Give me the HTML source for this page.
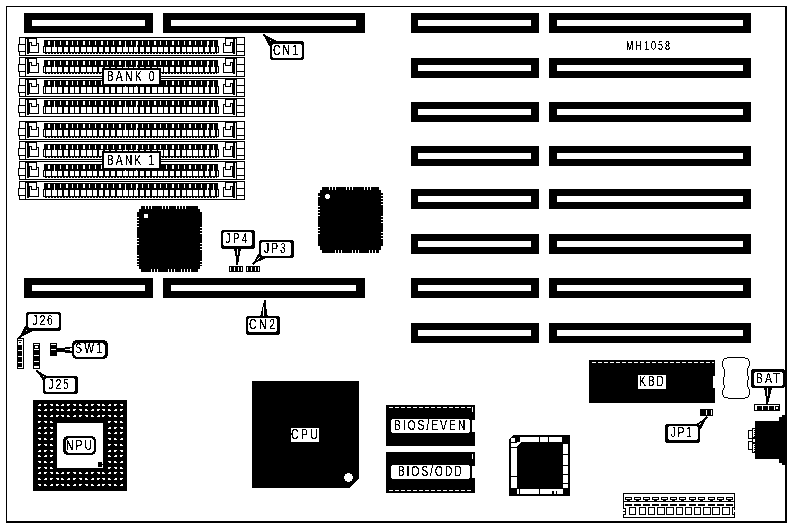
<!DOCTYPE html>
<html lang="en">
<head>
<meta charset="utf-8">
<title>MH1058 motherboard layout</title>
<style>
html,body{margin:0;padding:0;background:#fff;}
body{width:791px;height:527px;overflow:hidden;}
svg{display:block;}
svg path{shape-rendering:crispEdges;}
svg text{font-family:"Liberation Sans",sans-serif;}
</style>
</head>
<body>
<svg width="791" height="527" viewBox="0 0 791 527">
<rect width="791" height="527" fill="#fff"/>
<filter id="bw" x="0" y="0" width="1" height="1"><feComponentTransfer><feFuncA type="discrete" tableValues="0 0 1 1 1"/></feComponentTransfer></filter>
<g id="board"><path d="M6 6h781v1h-781zM6 7h1v514h-1zM785 7h2v514h-2zM6 521h781v2h-781z"/></g>
<g id="slots"><path fill="#fff" d="M32 20h113v6h-113zM171 20h185v6h-185zM418 20h113v6h-113zM557 20h186v6h-186zM418 65h113v6h-113zM557 65h186v6h-186zM418 109h113v6h-113zM557 109h186v6h-186zM418 153h113v6h-113zM557 153h186v6h-186zM418 196h113v6h-113zM557 196h186v6h-186zM418 241h113v6h-113zM557 241h186v6h-186zM32 285h113v6h-113zM171 285h185v6h-185zM418 285h113v6h-113zM557 285h186v6h-186zM418 330h113v6h-113zM557 330h186v6h-186z"/><path d="M24 13h129v7h-129zM163 13h202v7h-202zM411 13h128v7h-128zM549 13h202v7h-202zM24 20h8v6h-8zM145 20h8v6h-8zM163 20h8v6h-8zM356 20h9v6h-9zM411 20h7v6h-7zM531 20h8v6h-8zM549 20h8v6h-8zM743 20h8v6h-8zM24 26h129v7h-129zM163 26h202v7h-202zM411 26h128v7h-128zM549 26h202v7h-202zM411 58h128v7h-128zM549 58h202v7h-202zM411 65h7v6h-7zM531 65h8v6h-8zM549 65h8v6h-8zM743 65h8v6h-8zM411 71h128v7h-128zM549 71h202v7h-202zM411 102h128v7h-128zM549 102h202v7h-202zM411 109h7v6h-7zM531 109h8v6h-8zM549 109h8v6h-8zM743 109h8v6h-8zM411 115h128v7h-128zM549 115h202v7h-202zM411 146h128v7h-128zM549 146h202v7h-202zM411 153h7v6h-7zM531 153h8v6h-8zM549 153h8v6h-8zM743 153h8v6h-8zM411 159h128v7h-128zM549 159h202v7h-202zM411 189h128v7h-128zM549 189h202v7h-202zM411 196h7v6h-7zM531 196h8v6h-8zM549 196h8v6h-8zM743 196h8v6h-8zM411 202h128v7h-128zM549 202h202v7h-202zM411 234h128v7h-128zM549 234h202v7h-202zM411 241h7v6h-7zM531 241h8v6h-8zM549 241h8v6h-8zM743 241h8v6h-8zM411 247h128v7h-128zM549 247h202v7h-202zM24 278h129v7h-129zM163 278h202v7h-202zM411 278h128v7h-128zM549 278h202v7h-202zM24 285h8v6h-8zM145 285h8v6h-8zM163 285h8v6h-8zM356 285h9v6h-9zM411 285h7v6h-7zM531 285h8v6h-8zM549 285h8v6h-8zM743 285h8v6h-8zM24 291h129v7h-129zM163 291h202v7h-202zM411 291h128v7h-128zM549 291h202v7h-202zM411 323h128v7h-128zM549 323h202v7h-202zM411 330h7v6h-7zM531 330h8v6h-8zM549 330h8v6h-8zM743 330h8v6h-8zM411 336h128v7h-128zM549 336h202v7h-202z"/></g>
<g id="simm"><path fill="#fff" d="M26 39h1v14h-1zM29 39h1v3h-1zM232 39h1v3h-1zM235 39h1v14h-1zM48 41h2v4h-2zM54 41h1v6h-1zM60 41h1v4h-1zM66 41h2v4h-2zM72 41h1v4h-1zM77 41h1v4h-1zM83 41h2v4h-2zM89 41h1v4h-1zM95 41h1v4h-1zM101 41h2v4h-2zM107 41h1v4h-1zM113 41h1v4h-1zM119 41h2v4h-2zM125 41h1v6h-1zM131 41h1v4h-1zM136 41h2v4h-2zM142 41h1v4h-1zM148 41h1v4h-1zM154 41h2v4h-2zM160 41h1v4h-1zM166 41h1v4h-1zM172 41h2v4h-2zM178 41h1v4h-1zM184 41h1v4h-1zM189 41h2v4h-2zM195 41h1v4h-1zM201 41h1v4h-1zM207 41h2v4h-2zM213 41h1v6h-1zM19 45h1v6h-1zM136 45h1v2h-1zM207 45h1v2h-1zM44 47h1v5h-1zM46 47h5v5h-5zM52 47h5v5h-5zM58 47h4v5h-4zM64 47h4v5h-4zM70 47h4v5h-4zM75 47h4v5h-4zM81 47h5v5h-5zM87 47h5v5h-5zM93 47h4v5h-4zM99 47h4v5h-4zM105 47h4v5h-4zM111 47h4v5h-4zM117 47h5v5h-5zM123 47h5v5h-5zM129 47h4v5h-4zM134 47h4v5h-4zM140 47h4v5h-4zM146 47h4v5h-4zM152 47h5v5h-5zM158 47h5v5h-5zM164 47h4v5h-4zM170 47h4v5h-4zM176 47h4v5h-4zM182 47h4v5h-4zM187 47h5v5h-5zM193 47h5v5h-5zM199 47h4v5h-4zM205 47h4v5h-4zM211 47h4v5h-4zM217 47h1v5h-1zM47 53h1v1h-1zM50 53h1v1h-1zM53 53h1v1h-1zM56 53h1v1h-1zM59 53h1v1h-1zM62 53h1v1h-1zM65 53h1v1h-1zM68 53h1v1h-1zM71 53h1v1h-1zM74 53h1v1h-1zM77 53h1v1h-1zM80 53h1v1h-1zM83 53h1v1h-1zM86 53h1v1h-1zM89 53h1v1h-1zM92 53h1v1h-1zM95 53h1v1h-1zM98 53h1v1h-1zM101 53h1v1h-1zM104 53h1v1h-1zM107 53h1v1h-1zM110 53h1v1h-1zM113 53h1v1h-1zM116 53h1v1h-1zM119 53h1v1h-1zM122 53h1v1h-1zM125 53h1v1h-1zM128 53h1v1h-1zM131 53h1v1h-1zM134 53h1v1h-1zM137 53h1v1h-1zM140 53h1v1h-1zM143 53h1v1h-1zM146 53h1v1h-1zM149 53h1v1h-1zM152 53h1v1h-1zM155 53h1v1h-1zM158 53h1v1h-1zM161 53h1v1h-1zM164 53h1v1h-1zM167 53h1v1h-1zM170 53h1v1h-1zM173 53h1v1h-1zM176 53h1v1h-1zM179 53h1v1h-1zM182 53h1v1h-1zM185 53h1v1h-1zM188 53h1v1h-1zM191 53h1v1h-1zM194 53h1v1h-1zM197 53h1v1h-1zM200 53h1v1h-1zM203 53h1v1h-1zM206 53h1v1h-1zM209 53h1v1h-1zM212 53h1v1h-1zM215 53h1v1h-1zM26 59h1v14h-1zM29 59h1v3h-1zM232 59h1v3h-1zM235 59h1v14h-1zM48 61h2v4h-2zM54 61h1v6h-1zM60 61h1v4h-1zM66 61h2v4h-2zM72 61h1v4h-1zM77 61h1v4h-1zM83 61h2v4h-2zM89 61h1v4h-1zM95 61h1v4h-1zM101 61h2v4h-2zM107 61h1v4h-1zM113 61h1v4h-1zM119 61h2v4h-2zM125 61h1v6h-1zM131 61h1v4h-1zM136 61h2v4h-2zM142 61h1v4h-1zM148 61h1v4h-1zM154 61h2v4h-2zM160 61h1v4h-1zM166 61h1v4h-1zM172 61h2v4h-2zM178 61h1v4h-1zM184 61h1v4h-1zM189 61h2v4h-2zM195 61h1v4h-1zM201 61h1v4h-1zM207 61h2v4h-2zM213 61h1v6h-1zM19 65h1v6h-1zM136 65h1v2h-1zM207 65h1v2h-1zM44 67h1v5h-1zM46 67h5v5h-5zM52 67h5v5h-5zM58 67h4v5h-4zM64 67h4v5h-4zM70 67h4v5h-4zM75 67h4v5h-4zM81 67h5v5h-5zM87 67h5v5h-5zM93 67h4v5h-4zM99 67h4v5h-4zM105 67h4v5h-4zM111 67h4v5h-4zM117 67h5v5h-5zM123 67h5v5h-5zM129 67h4v5h-4zM134 67h4v5h-4zM140 67h4v5h-4zM146 67h4v5h-4zM152 67h5v5h-5zM158 67h5v5h-5zM164 67h4v5h-4zM170 67h4v5h-4zM176 67h4v5h-4zM182 67h4v5h-4zM187 67h5v5h-5zM193 67h5v5h-5zM199 67h4v5h-4zM205 67h4v5h-4zM211 67h4v5h-4zM217 67h1v5h-1zM47 73h1v1h-1zM50 73h1v1h-1zM53 73h1v1h-1zM56 73h1v1h-1zM59 73h1v1h-1zM62 73h1v1h-1zM65 73h1v1h-1zM68 73h1v1h-1zM71 73h1v1h-1zM74 73h1v1h-1zM77 73h1v1h-1zM80 73h1v1h-1zM83 73h1v1h-1zM86 73h1v1h-1zM89 73h1v1h-1zM92 73h1v1h-1zM95 73h1v1h-1zM98 73h1v1h-1zM101 73h1v1h-1zM104 73h1v1h-1zM107 73h1v1h-1zM110 73h1v1h-1zM113 73h1v1h-1zM116 73h1v1h-1zM119 73h1v1h-1zM122 73h1v1h-1zM125 73h1v1h-1zM128 73h1v1h-1zM131 73h1v1h-1zM134 73h1v1h-1zM137 73h1v1h-1zM140 73h1v1h-1zM143 73h1v1h-1zM146 73h1v1h-1zM149 73h1v1h-1zM152 73h1v1h-1zM155 73h1v1h-1zM158 73h1v1h-1zM161 73h1v1h-1zM164 73h1v1h-1zM167 73h1v1h-1zM170 73h1v1h-1zM173 73h1v1h-1zM176 73h1v1h-1zM179 73h1v1h-1zM182 73h1v1h-1zM185 73h1v1h-1zM188 73h1v1h-1zM191 73h1v1h-1zM194 73h1v1h-1zM197 73h1v1h-1zM200 73h1v1h-1zM203 73h1v1h-1zM206 73h1v1h-1zM209 73h1v1h-1zM212 73h1v1h-1zM215 73h1v1h-1zM26 80h1v14h-1zM29 80h1v3h-1zM232 80h1v3h-1zM235 80h1v14h-1zM48 81h2v4h-2zM54 81h1v6h-1zM60 81h1v4h-1zM66 81h2v4h-2zM72 81h1v4h-1zM77 81h1v4h-1zM83 81h2v4h-2zM89 81h1v4h-1zM95 81h1v4h-1zM101 81h2v4h-2zM107 81h1v4h-1zM113 81h1v4h-1zM119 81h2v4h-2zM125 81h1v6h-1zM131 81h1v4h-1zM136 81h2v4h-2zM142 81h1v4h-1zM148 81h1v4h-1zM154 81h2v4h-2zM160 81h1v4h-1zM166 81h1v4h-1zM172 81h2v4h-2zM178 81h1v4h-1zM184 81h1v4h-1zM189 81h2v4h-2zM195 81h1v4h-1zM201 81h1v4h-1zM207 81h2v4h-2zM213 81h1v6h-1zM136 85h1v2h-1zM207 85h1v2h-1zM19 86h1v6h-1zM44 87h1v6h-1zM46 87h5v6h-5zM52 87h5v6h-5zM58 87h4v6h-4zM64 87h4v6h-4zM70 87h4v6h-4zM75 87h4v6h-4zM81 87h5v6h-5zM87 87h5v6h-5zM93 87h4v6h-4zM99 87h4v6h-4zM105 87h4v6h-4zM111 87h4v6h-4zM117 87h5v6h-5zM123 87h5v6h-5zM129 87h4v6h-4zM134 87h4v6h-4zM140 87h4v6h-4zM146 87h4v6h-4zM152 87h5v6h-5zM158 87h5v6h-5zM164 87h4v6h-4zM170 87h4v6h-4zM176 87h4v6h-4zM182 87h4v6h-4zM187 87h5v6h-5zM193 87h5v6h-5zM199 87h4v6h-4zM205 87h4v6h-4zM211 87h4v6h-4zM217 87h1v6h-1zM26 100h1v14h-1zM29 100h1v3h-1zM232 100h1v3h-1zM235 100h1v14h-1zM48 101h2v4h-2zM54 101h1v6h-1zM60 101h1v4h-1zM66 101h2v4h-2zM72 101h1v4h-1zM77 101h1v4h-1zM83 101h2v4h-2zM89 101h1v4h-1zM95 101h1v4h-1zM101 101h2v4h-2zM107 101h1v4h-1zM113 101h1v4h-1zM119 101h2v4h-2zM125 101h1v6h-1zM131 101h1v4h-1zM136 101h2v4h-2zM142 101h1v4h-1zM148 101h1v4h-1zM154 101h2v4h-2zM160 101h1v4h-1zM166 101h1v4h-1zM172 101h2v4h-2zM178 101h1v4h-1zM184 101h1v4h-1zM189 101h2v4h-2zM195 101h1v4h-1zM201 101h1v4h-1zM207 101h2v4h-2zM213 101h1v6h-1zM136 105h1v2h-1zM207 105h1v2h-1zM19 106h1v6h-1zM44 107h1v6h-1zM46 107h5v6h-5zM52 107h5v6h-5zM58 107h4v6h-4zM64 107h4v6h-4zM70 107h4v6h-4zM75 107h4v6h-4zM81 107h5v6h-5zM87 107h5v6h-5zM93 107h4v6h-4zM99 107h4v6h-4zM105 107h4v6h-4zM111 107h4v6h-4zM117 107h5v6h-5zM123 107h5v6h-5zM129 107h4v6h-4zM134 107h4v6h-4zM140 107h4v6h-4zM146 107h4v6h-4zM152 107h5v6h-5zM158 107h5v6h-5zM164 107h4v6h-4zM170 107h4v6h-4zM176 107h4v6h-4zM182 107h4v6h-4zM187 107h5v6h-5zM193 107h5v6h-5zM199 107h4v6h-4zM205 107h4v6h-4zM211 107h4v6h-4zM217 107h1v6h-1zM26 123h1v14h-1zM29 123h1v3h-1zM232 123h1v3h-1zM235 123h1v14h-1zM48 124h2v4h-2zM54 124h1v6h-1zM60 124h1v4h-1zM66 124h2v4h-2zM72 124h1v4h-1zM77 124h1v4h-1zM83 124h2v4h-2zM89 124h1v4h-1zM95 124h1v4h-1zM101 124h2v4h-2zM107 124h1v4h-1zM113 124h1v4h-1zM119 124h2v4h-2zM125 124h1v6h-1zM131 124h1v4h-1zM136 124h2v4h-2zM142 124h1v4h-1zM148 124h1v4h-1zM154 124h2v4h-2zM160 124h1v4h-1zM166 124h1v4h-1zM172 124h2v4h-2zM178 124h1v4h-1zM184 124h1v4h-1zM189 124h2v4h-2zM195 124h1v4h-1zM201 124h1v4h-1zM207 124h2v4h-2zM213 124h1v6h-1zM136 128h1v2h-1zM207 128h1v2h-1zM19 129h1v6h-1zM44 130h1v6h-1zM46 130h5v6h-5zM52 130h5v6h-5zM58 130h4v6h-4zM64 130h4v6h-4zM70 130h4v6h-4zM75 130h4v6h-4zM81 130h5v6h-5zM87 130h5v6h-5zM93 130h4v6h-4zM99 130h4v6h-4zM105 130h4v6h-4zM111 130h4v6h-4zM117 130h5v6h-5zM123 130h5v6h-5zM129 130h4v6h-4zM134 130h4v6h-4zM140 130h4v6h-4zM146 130h4v6h-4zM152 130h5v6h-5zM158 130h5v6h-5zM164 130h4v6h-4zM170 130h4v6h-4zM176 130h4v6h-4zM182 130h4v6h-4zM187 130h5v6h-5zM193 130h5v6h-5zM199 130h4v6h-4zM205 130h4v6h-4zM211 130h4v6h-4zM217 130h1v6h-1zM47 137h1v1h-1zM50 137h1v1h-1zM53 137h1v1h-1zM56 137h1v1h-1zM59 137h1v1h-1zM62 137h1v1h-1zM65 137h1v1h-1zM68 137h1v1h-1zM71 137h1v1h-1zM74 137h1v1h-1zM77 137h1v1h-1zM80 137h1v1h-1zM83 137h1v1h-1zM86 137h1v1h-1zM89 137h1v1h-1zM92 137h1v1h-1zM95 137h1v1h-1zM98 137h1v1h-1zM101 137h1v1h-1zM104 137h1v1h-1zM107 137h1v1h-1zM110 137h1v1h-1zM113 137h1v1h-1zM116 137h1v1h-1zM119 137h1v1h-1zM122 137h1v1h-1zM125 137h1v1h-1zM128 137h1v1h-1zM131 137h1v1h-1zM134 137h1v1h-1zM137 137h1v1h-1zM140 137h1v1h-1zM143 137h1v1h-1zM146 137h1v1h-1zM149 137h1v1h-1zM152 137h1v1h-1zM155 137h1v1h-1zM158 137h1v1h-1zM161 137h1v1h-1zM164 137h1v1h-1zM167 137h1v1h-1zM170 137h1v1h-1zM173 137h1v1h-1zM176 137h1v1h-1zM179 137h1v1h-1zM182 137h1v1h-1zM185 137h1v1h-1zM188 137h1v1h-1zM191 137h1v1h-1zM194 137h1v1h-1zM197 137h1v1h-1zM200 137h1v1h-1zM203 137h1v1h-1zM206 137h1v1h-1zM209 137h1v1h-1zM212 137h1v1h-1zM215 137h1v1h-1zM26 143h1v14h-1zM29 143h1v3h-1zM232 143h1v3h-1zM235 143h1v14h-1zM48 145h2v4h-2zM54 145h1v5h-1zM60 145h1v4h-1zM66 145h2v4h-2zM72 145h1v4h-1zM77 145h1v4h-1zM83 145h2v4h-2zM89 145h1v4h-1zM95 145h1v4h-1zM101 145h2v4h-2zM107 145h1v4h-1zM113 145h1v4h-1zM119 145h2v4h-2zM125 145h1v5h-1zM131 145h1v4h-1zM136 145h2v4h-2zM142 145h1v4h-1zM148 145h1v4h-1zM154 145h2v4h-2zM160 145h1v4h-1zM166 145h1v4h-1zM172 145h2v4h-2zM178 145h1v4h-1zM184 145h1v4h-1zM189 145h2v4h-2zM195 145h1v4h-1zM201 145h1v4h-1zM207 145h2v4h-2zM213 145h1v5h-1zM19 149h1v6h-1zM136 149h1v1h-1zM207 149h1v1h-1zM44 150h1v6h-1zM46 150h5v6h-5zM52 150h5v6h-5zM58 150h4v6h-4zM64 150h4v6h-4zM70 150h4v6h-4zM75 150h4v6h-4zM81 150h5v6h-5zM87 150h5v6h-5zM93 150h4v6h-4zM99 150h4v6h-4zM105 150h4v6h-4zM111 150h4v6h-4zM117 150h5v6h-5zM123 150h5v6h-5zM129 150h4v6h-4zM134 150h4v6h-4zM140 150h4v6h-4zM146 150h4v6h-4zM152 150h5v6h-5zM158 150h5v6h-5zM164 150h4v6h-4zM170 150h4v6h-4zM176 150h4v6h-4zM182 150h4v6h-4zM187 150h5v6h-5zM193 150h5v6h-5zM199 150h4v6h-4zM205 150h4v6h-4zM211 150h4v6h-4zM217 150h1v6h-1zM47 157h1v1h-1zM50 157h1v1h-1zM53 157h1v1h-1zM56 157h1v1h-1zM59 157h1v1h-1zM62 157h1v1h-1zM65 157h1v1h-1zM68 157h1v1h-1zM71 157h1v1h-1zM74 157h1v1h-1zM77 157h1v1h-1zM80 157h1v1h-1zM83 157h1v1h-1zM86 157h1v1h-1zM89 157h1v1h-1zM92 157h1v1h-1zM95 157h1v1h-1zM98 157h1v1h-1zM101 157h1v1h-1zM104 157h1v1h-1zM107 157h1v1h-1zM110 157h1v1h-1zM113 157h1v1h-1zM116 157h1v1h-1zM119 157h1v1h-1zM122 157h1v1h-1zM125 157h1v1h-1zM128 157h1v1h-1zM131 157h1v1h-1zM134 157h1v1h-1zM137 157h1v1h-1zM140 157h1v1h-1zM143 157h1v1h-1zM146 157h1v1h-1zM149 157h1v1h-1zM152 157h1v1h-1zM155 157h1v1h-1zM158 157h1v1h-1zM161 157h1v1h-1zM164 157h1v1h-1zM167 157h1v1h-1zM170 157h1v1h-1zM173 157h1v1h-1zM176 157h1v1h-1zM179 157h1v1h-1zM182 157h1v1h-1zM185 157h1v1h-1zM188 157h1v1h-1zM191 157h1v1h-1zM194 157h1v1h-1zM197 157h1v1h-1zM200 157h1v1h-1zM203 157h1v1h-1zM206 157h1v1h-1zM209 157h1v1h-1zM212 157h1v1h-1zM215 157h1v1h-1zM26 163h1v14h-1zM29 163h1v3h-1zM232 163h1v3h-1zM235 163h1v14h-1zM48 165h2v4h-2zM54 165h1v6h-1zM60 165h1v4h-1zM66 165h2v4h-2zM72 165h1v4h-1zM77 165h1v4h-1zM83 165h2v4h-2zM89 165h1v4h-1zM95 165h1v4h-1zM101 165h2v4h-2zM107 165h1v4h-1zM113 165h1v4h-1zM119 165h2v4h-2zM125 165h1v6h-1zM131 165h1v4h-1zM136 165h2v4h-2zM142 165h1v4h-1zM148 165h1v4h-1zM154 165h2v4h-2zM160 165h1v4h-1zM166 165h1v4h-1zM172 165h2v4h-2zM178 165h1v4h-1zM184 165h1v4h-1zM189 165h2v4h-2zM195 165h1v4h-1zM201 165h1v4h-1zM207 165h2v4h-2zM213 165h1v6h-1zM19 169h1v6h-1zM136 169h1v2h-1zM207 169h1v2h-1zM44 171h1v5h-1zM46 171h5v5h-5zM52 171h5v5h-5zM58 171h4v5h-4zM64 171h4v5h-4zM70 171h4v5h-4zM75 171h4v5h-4zM81 171h5v5h-5zM87 171h5v5h-5zM93 171h4v5h-4zM99 171h4v5h-4zM105 171h4v5h-4zM111 171h4v5h-4zM117 171h5v5h-5zM123 171h5v5h-5zM129 171h4v5h-4zM134 171h4v5h-4zM140 171h4v5h-4zM146 171h4v5h-4zM152 171h5v5h-5zM158 171h5v5h-5zM164 171h4v5h-4zM170 171h4v5h-4zM176 171h4v5h-4zM182 171h4v5h-4zM187 171h5v5h-5zM193 171h5v5h-5zM199 171h4v5h-4zM205 171h4v5h-4zM211 171h4v5h-4zM217 171h1v5h-1zM47 177h1v1h-1zM50 177h1v1h-1zM53 177h1v1h-1zM56 177h1v1h-1zM59 177h1v1h-1zM62 177h1v1h-1zM65 177h1v1h-1zM68 177h1v1h-1zM71 177h1v1h-1zM74 177h1v1h-1zM77 177h1v1h-1zM80 177h1v1h-1zM83 177h1v1h-1zM86 177h1v1h-1zM89 177h1v1h-1zM92 177h1v1h-1zM95 177h1v1h-1zM98 177h1v1h-1zM101 177h1v1h-1zM104 177h1v1h-1zM107 177h1v1h-1zM110 177h1v1h-1zM113 177h1v1h-1zM116 177h1v1h-1zM119 177h1v1h-1zM122 177h1v1h-1zM125 177h1v1h-1zM128 177h1v1h-1zM131 177h1v1h-1zM134 177h1v1h-1zM137 177h1v1h-1zM140 177h1v1h-1zM143 177h1v1h-1zM146 177h1v1h-1zM149 177h1v1h-1zM152 177h1v1h-1zM155 177h1v1h-1zM158 177h1v1h-1zM161 177h1v1h-1zM164 177h1v1h-1zM167 177h1v1h-1zM170 177h1v1h-1zM173 177h1v1h-1zM176 177h1v1h-1zM179 177h1v1h-1zM182 177h1v1h-1zM185 177h1v1h-1zM188 177h1v1h-1zM191 177h1v1h-1zM194 177h1v1h-1zM197 177h1v1h-1zM200 177h1v1h-1zM203 177h1v1h-1zM206 177h1v1h-1zM209 177h1v1h-1zM212 177h1v1h-1zM215 177h1v1h-1zM26 183h1v14h-1zM29 183h1v3h-1zM232 183h1v3h-1zM235 183h1v14h-1zM48 184h2v4h-2zM54 184h1v6h-1zM60 184h1v4h-1zM66 184h2v4h-2zM72 184h1v4h-1zM77 184h1v4h-1zM83 184h2v4h-2zM89 184h1v4h-1zM95 184h1v4h-1zM101 184h2v4h-2zM107 184h1v4h-1zM113 184h1v4h-1zM119 184h2v4h-2zM125 184h1v6h-1zM131 184h1v4h-1zM136 184h2v4h-2zM142 184h1v4h-1zM148 184h1v4h-1zM154 184h2v4h-2zM160 184h1v4h-1zM166 184h1v4h-1zM172 184h2v4h-2zM178 184h1v4h-1zM184 184h1v4h-1zM189 184h2v4h-2zM195 184h1v4h-1zM201 184h1v4h-1zM207 184h2v4h-2zM213 184h1v6h-1zM136 188h1v2h-1zM207 188h1v2h-1zM19 189h1v6h-1zM44 190h1v6h-1zM46 190h5v6h-5zM52 190h5v6h-5zM58 190h4v6h-4zM64 190h4v6h-4zM70 190h4v6h-4zM75 190h4v6h-4zM81 190h5v6h-5zM87 190h5v6h-5zM93 190h4v6h-4zM99 190h4v6h-4zM105 190h4v6h-4zM111 190h4v6h-4zM117 190h5v6h-5zM123 190h5v6h-5zM129 190h4v6h-4zM134 190h4v6h-4zM140 190h4v6h-4zM146 190h4v6h-4zM152 190h5v6h-5zM158 190h5v6h-5zM164 190h4v6h-4zM170 190h4v6h-4zM176 190h4v6h-4zM182 190h4v6h-4zM187 190h5v6h-5zM193 190h5v6h-5zM199 190h4v6h-4zM205 190h4v6h-4zM211 190h4v6h-4zM217 190h1v6h-1zM47 197h1v1h-1zM50 197h1v1h-1zM53 197h1v1h-1zM56 197h1v1h-1zM59 197h1v1h-1zM62 197h1v1h-1zM65 197h1v1h-1zM68 197h1v1h-1zM71 197h1v1h-1zM74 197h1v1h-1zM77 197h1v1h-1zM80 197h1v1h-1zM83 197h1v1h-1zM86 197h1v1h-1zM89 197h1v1h-1zM92 197h1v1h-1zM95 197h1v1h-1zM98 197h1v1h-1zM101 197h1v1h-1zM104 197h1v1h-1zM107 197h1v1h-1zM110 197h1v1h-1zM113 197h1v1h-1zM116 197h1v1h-1zM119 197h1v1h-1zM122 197h1v1h-1zM125 197h1v1h-1zM128 197h1v1h-1zM131 197h1v1h-1zM134 197h1v1h-1zM137 197h1v1h-1zM140 197h1v1h-1zM143 197h1v1h-1zM146 197h1v1h-1zM149 197h1v1h-1zM152 197h1v1h-1zM155 197h1v1h-1zM158 197h1v1h-1zM161 197h1v1h-1zM164 197h1v1h-1zM167 197h1v1h-1zM170 197h1v1h-1zM173 197h1v1h-1zM176 197h1v1h-1zM179 197h1v1h-1zM182 197h1v1h-1zM185 197h1v1h-1zM188 197h1v1h-1zM191 197h1v1h-1zM194 197h1v1h-1zM197 197h1v1h-1zM200 197h1v1h-1zM203 197h1v1h-1zM206 197h1v1h-1zM209 197h1v1h-1zM212 197h1v1h-1zM215 197h1v1h-1z"/><path d="M19 37h226v1h-226zM19 38h1v6h-1zM25 38h12v1h-12zM225 38h12v1h-12zM244 38h1v6h-1zM25 39h1v5h-1zM27 39h2v3h-2zM36 39h1v4h-1zM225 39h1v4h-1zM233 39h2v3h-2zM236 39h1v5h-1zM44 40h174v1h-174zM44 41h4v4h-4zM50 41h4v4h-4zM55 41h5v4h-5zM61 41h5v4h-5zM68 41h4v4h-4zM73 41h4v4h-4zM78 41h5v4h-5zM85 41h4v4h-4zM90 41h5v4h-5zM96 41h5v4h-5zM103 41h4v4h-4zM108 41h5v4h-5zM114 41h5v4h-5zM121 41h4v4h-4zM126 41h5v4h-5zM132 41h4v4h-4zM138 41h4v4h-4zM143 41h5v4h-5zM149 41h5v4h-5zM156 41h4v4h-4zM161 41h5v4h-5zM167 41h5v4h-5zM174 41h4v4h-4zM179 41h5v4h-5zM185 41h4v4h-4zM191 41h4v4h-4zM196 41h5v4h-5zM202 41h5v4h-5zM209 41h4v4h-4zM214 41h4v5h-4zM27 42h5v1h-5zM230 42h5v1h-5zM27 43h3v9h-3zM31 43h1v2h-1zM36 43h3v1h-3zM223 43h3v1h-3zM230 43h1v2h-1zM232 43h3v9h-3zM18 44h8v1h-8zM36 44h1v1h-1zM38 44h1v8h-1zM223 44h1v8h-1zM225 44h1v1h-1zM236 44h9v1h-9zM18 45h1v6h-1zM25 45h1v6h-1zM31 45h6v1h-6zM44 45h10v1h-10zM55 45h70v2h-70zM126 45h10v2h-10zM137 45h70v2h-70zM208 45h5v2h-5zM225 45h6v1h-6zM236 45h1v6h-1zM244 45h1v6h-1zM43 46h11v1h-11zM214 46h5v1h-5zM43 47h1v5h-1zM45 47h1v5h-1zM51 47h1v5h-1zM57 47h1v5h-1zM62 47h2v5h-2zM68 47h2v5h-2zM74 47h1v5h-1zM79 47h2v5h-2zM86 47h1v5h-1zM92 47h1v5h-1zM97 47h2v5h-2zM103 47h2v5h-2zM109 47h2v5h-2zM115 47h2v5h-2zM122 47h1v5h-1zM128 47h1v5h-1zM133 47h1v5h-1zM138 47h2v5h-2zM144 47h2v5h-2zM150 47h2v5h-2zM157 47h1v5h-1zM163 47h1v5h-1zM168 47h2v5h-2zM174 47h2v5h-2zM180 47h2v5h-2zM186 47h1v5h-1zM192 47h1v5h-1zM198 47h1v5h-1zM203 47h2v5h-2zM209 47h2v5h-2zM215 47h2v5h-2zM218 47h1v5h-1zM18 51h8v1h-8zM236 51h9v1h-9zM19 52h1v3h-1zM25 52h1v3h-1zM27 52h12v1h-12zM43 52h176v1h-176zM223 52h12v1h-12zM236 52h1v3h-1zM244 52h1v3h-1zM27 53h2v1h-2zM45 53h2v1h-2zM48 53h2v1h-2zM51 53h2v1h-2zM54 53h2v1h-2zM57 53h2v1h-2zM60 53h2v1h-2zM63 53h2v1h-2zM66 53h2v1h-2zM69 53h2v1h-2zM72 53h2v1h-2zM75 53h2v1h-2zM78 53h2v1h-2zM81 53h2v1h-2zM84 53h2v1h-2zM87 53h2v1h-2zM90 53h2v1h-2zM93 53h2v1h-2zM96 53h2v1h-2zM99 53h2v1h-2zM102 53h2v1h-2zM105 53h2v1h-2zM108 53h2v1h-2zM111 53h2v1h-2zM114 53h2v1h-2zM117 53h2v1h-2zM120 53h2v1h-2zM123 53h2v1h-2zM126 53h2v1h-2zM129 53h2v1h-2zM132 53h2v1h-2zM135 53h2v1h-2zM138 53h2v1h-2zM141 53h2v1h-2zM144 53h2v1h-2zM147 53h2v1h-2zM150 53h2v1h-2zM153 53h2v1h-2zM156 53h2v1h-2zM159 53h2v1h-2zM162 53h2v1h-2zM165 53h2v1h-2zM168 53h2v1h-2zM171 53h2v1h-2zM174 53h2v1h-2zM177 53h2v1h-2zM180 53h2v1h-2zM183 53h2v1h-2zM186 53h2v1h-2zM189 53h2v1h-2zM192 53h2v1h-2zM195 53h2v1h-2zM198 53h2v1h-2zM201 53h2v1h-2zM204 53h2v1h-2zM207 53h2v1h-2zM210 53h2v1h-2zM213 53h2v1h-2zM216 53h1v1h-1zM233 53h2v1h-2zM19 55h226v1h-226zM19 57h226v1h-226zM19 58h1v6h-1zM25 58h12v1h-12zM225 58h12v1h-12zM244 58h1v6h-1zM25 59h1v5h-1zM27 59h2v3h-2zM36 59h1v4h-1zM225 59h1v4h-1zM233 59h2v3h-2zM236 59h1v5h-1zM44 60h174v1h-174zM44 61h4v4h-4zM50 61h4v4h-4zM55 61h5v4h-5zM61 61h5v4h-5zM68 61h4v4h-4zM73 61h4v4h-4zM78 61h5v4h-5zM85 61h4v4h-4zM90 61h5v4h-5zM96 61h5v4h-5zM103 61h4v4h-4zM108 61h5v4h-5zM114 61h5v4h-5zM121 61h4v4h-4zM126 61h5v4h-5zM132 61h4v4h-4zM138 61h4v4h-4zM143 61h5v4h-5zM149 61h5v4h-5zM156 61h4v4h-4zM161 61h5v4h-5zM167 61h5v4h-5zM174 61h4v4h-4zM179 61h5v4h-5zM185 61h4v4h-4zM191 61h4v4h-4zM196 61h5v4h-5zM202 61h5v4h-5zM209 61h4v4h-4zM214 61h4v5h-4zM27 62h5v1h-5zM230 62h5v1h-5zM27 63h3v9h-3zM31 63h1v2h-1zM36 63h3v1h-3zM223 63h3v1h-3zM230 63h1v2h-1zM232 63h3v9h-3zM18 64h8v1h-8zM36 64h1v1h-1zM38 64h1v8h-1zM223 64h1v8h-1zM225 64h1v1h-1zM236 64h9v1h-9zM18 65h1v6h-1zM25 65h1v6h-1zM31 65h6v1h-6zM44 65h10v1h-10zM55 65h70v2h-70zM126 65h10v2h-10zM137 65h70v2h-70zM208 65h5v2h-5zM225 65h6v1h-6zM236 65h1v6h-1zM244 65h1v6h-1zM43 66h11v1h-11zM214 66h5v1h-5zM43 67h1v5h-1zM45 67h1v5h-1zM51 67h1v5h-1zM57 67h1v5h-1zM62 67h2v5h-2zM68 67h2v5h-2zM74 67h1v5h-1zM79 67h2v5h-2zM86 67h1v5h-1zM92 67h1v5h-1zM97 67h2v5h-2zM103 67h2v5h-2zM109 67h2v5h-2zM115 67h2v5h-2zM122 67h1v5h-1zM128 67h1v5h-1zM133 67h1v5h-1zM138 67h2v5h-2zM144 67h2v5h-2zM150 67h2v5h-2zM157 67h1v5h-1zM163 67h1v5h-1zM168 67h2v5h-2zM174 67h2v5h-2zM180 67h2v5h-2zM186 67h1v5h-1zM192 67h1v5h-1zM198 67h1v5h-1zM203 67h2v5h-2zM209 67h2v5h-2zM215 67h2v5h-2zM218 67h1v5h-1zM18 71h8v1h-8zM236 71h9v1h-9zM19 72h1v4h-1zM25 72h1v4h-1zM27 72h12v1h-12zM43 72h176v1h-176zM223 72h12v1h-12zM236 72h1v4h-1zM244 72h1v4h-1zM27 73h2v1h-2zM45 73h2v1h-2zM48 73h2v1h-2zM51 73h2v1h-2zM54 73h2v1h-2zM57 73h2v1h-2zM60 73h2v1h-2zM63 73h2v1h-2zM66 73h2v1h-2zM69 73h2v1h-2zM72 73h2v1h-2zM75 73h2v1h-2zM78 73h2v1h-2zM81 73h2v1h-2zM84 73h2v1h-2zM87 73h2v1h-2zM90 73h2v1h-2zM93 73h2v1h-2zM96 73h2v1h-2zM99 73h2v1h-2zM102 73h2v1h-2zM105 73h2v1h-2zM108 73h2v1h-2zM111 73h2v1h-2zM114 73h2v1h-2zM117 73h2v1h-2zM120 73h2v1h-2zM123 73h2v1h-2zM126 73h2v1h-2zM129 73h2v1h-2zM132 73h2v1h-2zM135 73h2v1h-2zM138 73h2v1h-2zM141 73h2v1h-2zM144 73h2v1h-2zM147 73h2v1h-2zM150 73h2v1h-2zM153 73h2v1h-2zM156 73h2v1h-2zM159 73h2v1h-2zM162 73h2v1h-2zM165 73h2v1h-2zM168 73h2v1h-2zM171 73h2v1h-2zM174 73h2v1h-2zM177 73h2v1h-2zM180 73h2v1h-2zM183 73h2v1h-2zM186 73h2v1h-2zM189 73h2v1h-2zM192 73h2v1h-2zM195 73h2v1h-2zM198 73h2v1h-2zM201 73h2v1h-2zM204 73h2v1h-2zM207 73h2v1h-2zM210 73h2v1h-2zM213 73h2v1h-2zM216 73h1v1h-1zM233 73h2v1h-2zM19 76h226v1h-226zM19 78h226v1h-226zM19 79h1v6h-1zM25 79h12v1h-12zM225 79h12v1h-12zM244 79h1v6h-1zM25 80h1v5h-1zM27 80h2v3h-2zM36 80h1v4h-1zM44 80h174v1h-174zM225 80h1v4h-1zM233 80h2v3h-2zM236 80h1v5h-1zM44 81h4v4h-4zM50 81h4v4h-4zM55 81h5v4h-5zM61 81h5v4h-5zM68 81h4v4h-4zM73 81h4v4h-4zM78 81h5v4h-5zM85 81h4v4h-4zM90 81h5v4h-5zM96 81h5v4h-5zM103 81h4v4h-4zM108 81h5v4h-5zM114 81h5v4h-5zM121 81h4v4h-4zM126 81h5v4h-5zM132 81h4v4h-4zM138 81h4v4h-4zM143 81h5v4h-5zM149 81h5v4h-5zM156 81h4v4h-4zM161 81h5v4h-5zM167 81h5v4h-5zM174 81h4v4h-4zM179 81h5v4h-5zM185 81h4v4h-4zM191 81h4v4h-4zM196 81h5v4h-5zM202 81h5v4h-5zM209 81h4v4h-4zM214 81h4v5h-4zM27 83h5v1h-5zM230 83h5v1h-5zM27 84h3v9h-3zM31 84h1v2h-1zM36 84h3v1h-3zM223 84h3v1h-3zM230 84h1v2h-1zM232 84h3v9h-3zM18 85h8v1h-8zM36 85h1v1h-1zM38 85h1v8h-1zM44 85h10v1h-10zM55 85h70v2h-70zM126 85h10v2h-10zM137 85h70v2h-70zM208 85h5v2h-5zM223 85h1v8h-1zM225 85h1v1h-1zM236 85h9v1h-9zM18 86h1v6h-1zM25 86h1v6h-1zM31 86h6v1h-6zM43 86h11v1h-11zM214 86h5v1h-5zM225 86h6v1h-6zM236 86h1v6h-1zM244 86h1v6h-1zM43 87h1v6h-1zM45 87h1v6h-1zM51 87h1v6h-1zM57 87h1v6h-1zM62 87h2v6h-2zM68 87h2v6h-2zM74 87h1v6h-1zM79 87h2v6h-2zM86 87h1v6h-1zM92 87h1v6h-1zM97 87h2v6h-2zM103 87h2v6h-2zM109 87h2v6h-2zM115 87h2v6h-2zM122 87h1v6h-1zM128 87h1v6h-1zM133 87h1v6h-1zM138 87h2v6h-2zM144 87h2v6h-2zM150 87h2v6h-2zM157 87h1v6h-1zM163 87h1v6h-1zM168 87h2v6h-2zM174 87h2v6h-2zM180 87h2v6h-2zM186 87h1v6h-1zM192 87h1v6h-1zM198 87h1v6h-1zM203 87h2v6h-2zM209 87h2v6h-2zM215 87h2v6h-2zM218 87h1v6h-1zM18 92h8v1h-8zM236 92h9v1h-9zM19 93h1v3h-1zM25 93h1v3h-1zM27 93h12v1h-12zM43 93h176v1h-176zM223 93h12v1h-12zM236 93h1v3h-1zM244 93h1v3h-1zM27 94h2v1h-2zM233 94h2v1h-2zM19 96h226v1h-226zM19 98h226v1h-226zM19 99h1v6h-1zM25 99h12v1h-12zM225 99h12v1h-12zM244 99h1v6h-1zM25 100h1v5h-1zM27 100h2v3h-2zM36 100h1v4h-1zM44 100h174v1h-174zM225 100h1v4h-1zM233 100h2v3h-2zM236 100h1v5h-1zM44 101h4v4h-4zM50 101h4v4h-4zM55 101h5v4h-5zM61 101h5v4h-5zM68 101h4v4h-4zM73 101h4v4h-4zM78 101h5v4h-5zM85 101h4v4h-4zM90 101h5v4h-5zM96 101h5v4h-5zM103 101h4v4h-4zM108 101h5v4h-5zM114 101h5v4h-5zM121 101h4v4h-4zM126 101h5v4h-5zM132 101h4v4h-4zM138 101h4v4h-4zM143 101h5v4h-5zM149 101h5v4h-5zM156 101h4v4h-4zM161 101h5v4h-5zM167 101h5v4h-5zM174 101h4v4h-4zM179 101h5v4h-5zM185 101h4v4h-4zM191 101h4v4h-4zM196 101h5v4h-5zM202 101h5v4h-5zM209 101h4v4h-4zM214 101h4v5h-4zM27 103h5v1h-5zM230 103h5v1h-5zM27 104h3v9h-3zM31 104h1v2h-1zM36 104h3v1h-3zM223 104h3v1h-3zM230 104h1v2h-1zM232 104h3v9h-3zM18 105h8v1h-8zM36 105h1v1h-1zM38 105h1v8h-1zM44 105h10v1h-10zM55 105h70v2h-70zM126 105h10v2h-10zM137 105h70v2h-70zM208 105h5v2h-5zM223 105h1v8h-1zM225 105h1v1h-1zM236 105h9v1h-9zM18 106h1v6h-1zM25 106h1v6h-1zM31 106h6v1h-6zM43 106h11v1h-11zM214 106h5v1h-5zM225 106h6v1h-6zM236 106h1v6h-1zM244 106h1v6h-1zM43 107h1v6h-1zM45 107h1v6h-1zM51 107h1v6h-1zM57 107h1v6h-1zM62 107h2v6h-2zM68 107h2v6h-2zM74 107h1v6h-1zM79 107h2v6h-2zM86 107h1v6h-1zM92 107h1v6h-1zM97 107h2v6h-2zM103 107h2v6h-2zM109 107h2v6h-2zM115 107h2v6h-2zM122 107h1v6h-1zM128 107h1v6h-1zM133 107h1v6h-1zM138 107h2v6h-2zM144 107h2v6h-2zM150 107h2v6h-2zM157 107h1v6h-1zM163 107h1v6h-1zM168 107h2v6h-2zM174 107h2v6h-2zM180 107h2v6h-2zM186 107h1v6h-1zM192 107h1v6h-1zM198 107h1v6h-1zM203 107h2v6h-2zM209 107h2v6h-2zM215 107h2v6h-2zM218 107h1v6h-1zM18 112h8v1h-8zM236 112h9v1h-9zM19 113h1v3h-1zM25 113h1v3h-1zM27 113h12v1h-12zM43 113h176v1h-176zM223 113h12v1h-12zM236 113h1v3h-1zM244 113h1v3h-1zM27 114h2v1h-2zM233 114h2v1h-2zM19 116h226v1h-226zM19 121h226v1h-226zM19 122h1v6h-1zM25 122h12v1h-12zM225 122h12v1h-12zM244 122h1v6h-1zM25 123h1v5h-1zM27 123h2v3h-2zM36 123h1v4h-1zM44 123h174v1h-174zM225 123h1v4h-1zM233 123h2v3h-2zM236 123h1v5h-1zM44 124h4v4h-4zM50 124h4v4h-4zM55 124h5v4h-5zM61 124h5v4h-5zM68 124h4v4h-4zM73 124h4v4h-4zM78 124h5v4h-5zM85 124h4v4h-4zM90 124h5v4h-5zM96 124h5v4h-5zM103 124h4v4h-4zM108 124h5v4h-5zM114 124h5v4h-5zM121 124h4v4h-4zM126 124h5v4h-5zM132 124h4v4h-4zM138 124h4v4h-4zM143 124h5v4h-5zM149 124h5v4h-5zM156 124h4v4h-4zM161 124h5v4h-5zM167 124h5v4h-5zM174 124h4v4h-4zM179 124h5v4h-5zM185 124h4v4h-4zM191 124h4v4h-4zM196 124h5v4h-5zM202 124h5v4h-5zM209 124h4v4h-4zM214 124h4v5h-4zM27 126h5v1h-5zM230 126h5v1h-5zM27 127h3v9h-3zM31 127h1v2h-1zM36 127h3v1h-3zM223 127h3v1h-3zM230 127h1v2h-1zM232 127h3v9h-3zM18 128h8v1h-8zM36 128h1v1h-1zM38 128h1v8h-1zM44 128h10v1h-10zM55 128h70v2h-70zM126 128h10v2h-10zM137 128h70v2h-70zM208 128h5v2h-5zM223 128h1v8h-1zM225 128h1v1h-1zM236 128h9v1h-9zM18 129h1v6h-1zM25 129h1v6h-1zM31 129h6v1h-6zM43 129h11v1h-11zM214 129h5v1h-5zM225 129h6v1h-6zM236 129h1v6h-1zM244 129h1v6h-1zM43 130h1v6h-1zM45 130h1v6h-1zM51 130h1v6h-1zM57 130h1v6h-1zM62 130h2v6h-2zM68 130h2v6h-2zM74 130h1v6h-1zM79 130h2v6h-2zM86 130h1v6h-1zM92 130h1v6h-1zM97 130h2v6h-2zM103 130h2v6h-2zM109 130h2v6h-2zM115 130h2v6h-2zM122 130h1v6h-1zM128 130h1v6h-1zM133 130h1v6h-1zM138 130h2v6h-2zM144 130h2v6h-2zM150 130h2v6h-2zM157 130h1v6h-1zM163 130h1v6h-1zM168 130h2v6h-2zM174 130h2v6h-2zM180 130h2v6h-2zM186 130h1v6h-1zM192 130h1v6h-1zM198 130h1v6h-1zM203 130h2v6h-2zM209 130h2v6h-2zM215 130h2v6h-2zM218 130h1v6h-1zM18 135h8v1h-8zM236 135h9v1h-9zM19 136h1v3h-1zM25 136h1v3h-1zM27 136h12v1h-12zM43 136h176v1h-176zM223 136h12v1h-12zM236 136h1v3h-1zM244 136h1v3h-1zM27 137h2v1h-2zM45 137h2v1h-2zM48 137h2v1h-2zM51 137h2v1h-2zM54 137h2v1h-2zM57 137h2v1h-2zM60 137h2v1h-2zM63 137h2v1h-2zM66 137h2v1h-2zM69 137h2v1h-2zM72 137h2v1h-2zM75 137h2v1h-2zM78 137h2v1h-2zM81 137h2v1h-2zM84 137h2v1h-2zM87 137h2v1h-2zM90 137h2v1h-2zM93 137h2v1h-2zM96 137h2v1h-2zM99 137h2v1h-2zM102 137h2v1h-2zM105 137h2v1h-2zM108 137h2v1h-2zM111 137h2v1h-2zM114 137h2v1h-2zM117 137h2v1h-2zM120 137h2v1h-2zM123 137h2v1h-2zM126 137h2v1h-2zM129 137h2v1h-2zM132 137h2v1h-2zM135 137h2v1h-2zM138 137h2v1h-2zM141 137h2v1h-2zM144 137h2v1h-2zM147 137h2v1h-2zM150 137h2v1h-2zM153 137h2v1h-2zM156 137h2v1h-2zM159 137h2v1h-2zM162 137h2v1h-2zM165 137h2v1h-2zM168 137h2v1h-2zM171 137h2v1h-2zM174 137h2v1h-2zM177 137h2v1h-2zM180 137h2v1h-2zM183 137h2v1h-2zM186 137h2v1h-2zM189 137h2v1h-2zM192 137h2v1h-2zM195 137h2v1h-2zM198 137h2v1h-2zM201 137h2v1h-2zM204 137h2v1h-2zM207 137h2v1h-2zM210 137h2v1h-2zM213 137h2v1h-2zM216 137h1v1h-1zM233 137h2v1h-2zM19 139h226v1h-226zM19 141h226v1h-226zM19 142h1v6h-1zM25 142h12v1h-12zM225 142h12v1h-12zM244 142h1v6h-1zM25 143h1v5h-1zM27 143h2v3h-2zM36 143h1v4h-1zM225 143h1v4h-1zM233 143h2v3h-2zM236 143h1v5h-1zM44 144h174v1h-174zM44 145h4v4h-4zM50 145h4v4h-4zM55 145h5v4h-5zM61 145h5v4h-5zM68 145h4v4h-4zM73 145h4v4h-4zM78 145h5v4h-5zM85 145h4v4h-4zM90 145h5v4h-5zM96 145h5v4h-5zM103 145h4v4h-4zM108 145h5v4h-5zM114 145h5v4h-5zM121 145h4v4h-4zM126 145h5v4h-5zM132 145h4v4h-4zM138 145h4v4h-4zM143 145h5v4h-5zM149 145h5v4h-5zM156 145h4v4h-4zM161 145h5v4h-5zM167 145h5v4h-5zM174 145h4v4h-4zM179 145h5v4h-5zM185 145h4v4h-4zM191 145h4v4h-4zM196 145h5v4h-5zM202 145h5v4h-5zM209 145h4v4h-4zM214 145h4v4h-4zM27 146h5v1h-5zM230 146h5v1h-5zM27 147h3v9h-3zM31 147h1v2h-1zM36 147h3v1h-3zM223 147h3v1h-3zM230 147h1v2h-1zM232 147h3v9h-3zM18 148h8v1h-8zM36 148h1v1h-1zM38 148h1v8h-1zM223 148h1v8h-1zM225 148h1v1h-1zM236 148h9v1h-9zM18 149h1v6h-1zM25 149h1v6h-1zM31 149h6v1h-6zM43 149h11v1h-11zM55 149h70v1h-70zM126 149h10v1h-10zM137 149h70v1h-70zM208 149h5v1h-5zM214 149h5v1h-5zM225 149h6v1h-6zM236 149h1v6h-1zM244 149h1v6h-1zM43 150h1v6h-1zM45 150h1v6h-1zM51 150h1v6h-1zM57 150h1v6h-1zM62 150h2v6h-2zM68 150h2v6h-2zM74 150h1v6h-1zM79 150h2v6h-2zM86 150h1v6h-1zM92 150h1v6h-1zM97 150h2v6h-2zM103 150h2v6h-2zM109 150h2v6h-2zM115 150h2v6h-2zM122 150h1v6h-1zM128 150h1v6h-1zM133 150h1v6h-1zM138 150h2v6h-2zM144 150h2v6h-2zM150 150h2v6h-2zM157 150h1v6h-1zM163 150h1v6h-1zM168 150h2v6h-2zM174 150h2v6h-2zM180 150h2v6h-2zM186 150h1v6h-1zM192 150h1v6h-1zM198 150h1v6h-1zM203 150h2v6h-2zM209 150h2v6h-2zM215 150h2v6h-2zM218 150h1v6h-1zM18 155h8v1h-8zM236 155h9v1h-9zM19 156h1v3h-1zM25 156h1v3h-1zM27 156h12v1h-12zM43 156h176v1h-176zM223 156h12v1h-12zM236 156h1v3h-1zM244 156h1v3h-1zM27 157h2v1h-2zM45 157h2v1h-2zM48 157h2v1h-2zM51 157h2v1h-2zM54 157h2v1h-2zM57 157h2v1h-2zM60 157h2v1h-2zM63 157h2v1h-2zM66 157h2v1h-2zM69 157h2v1h-2zM72 157h2v1h-2zM75 157h2v1h-2zM78 157h2v1h-2zM81 157h2v1h-2zM84 157h2v1h-2zM87 157h2v1h-2zM90 157h2v1h-2zM93 157h2v1h-2zM96 157h2v1h-2zM99 157h2v1h-2zM102 157h2v1h-2zM105 157h2v1h-2zM108 157h2v1h-2zM111 157h2v1h-2zM114 157h2v1h-2zM117 157h2v1h-2zM120 157h2v1h-2zM123 157h2v1h-2zM126 157h2v1h-2zM129 157h2v1h-2zM132 157h2v1h-2zM135 157h2v1h-2zM138 157h2v1h-2zM141 157h2v1h-2zM144 157h2v1h-2zM147 157h2v1h-2zM150 157h2v1h-2zM153 157h2v1h-2zM156 157h2v1h-2zM159 157h2v1h-2zM162 157h2v1h-2zM165 157h2v1h-2zM168 157h2v1h-2zM171 157h2v1h-2zM174 157h2v1h-2zM177 157h2v1h-2zM180 157h2v1h-2zM183 157h2v1h-2zM186 157h2v1h-2zM189 157h2v1h-2zM192 157h2v1h-2zM195 157h2v1h-2zM198 157h2v1h-2zM201 157h2v1h-2zM204 157h2v1h-2zM207 157h2v1h-2zM210 157h2v1h-2zM213 157h2v1h-2zM216 157h1v1h-1zM233 157h2v1h-2zM19 159h226v1h-226zM19 161h226v1h-226zM19 162h1v6h-1zM25 162h12v1h-12zM225 162h12v1h-12zM244 162h1v6h-1zM25 163h1v5h-1zM27 163h2v3h-2zM36 163h1v4h-1zM225 163h1v4h-1zM233 163h2v3h-2zM236 163h1v5h-1zM44 164h174v1h-174zM44 165h4v4h-4zM50 165h4v4h-4zM55 165h5v4h-5zM61 165h5v4h-5zM68 165h4v4h-4zM73 165h4v4h-4zM78 165h5v4h-5zM85 165h4v4h-4zM90 165h5v4h-5zM96 165h5v4h-5zM103 165h4v4h-4zM108 165h5v4h-5zM114 165h5v4h-5zM121 165h4v4h-4zM126 165h5v4h-5zM132 165h4v4h-4zM138 165h4v4h-4zM143 165h5v4h-5zM149 165h5v4h-5zM156 165h4v4h-4zM161 165h5v4h-5zM167 165h5v4h-5zM174 165h4v4h-4zM179 165h5v4h-5zM185 165h4v4h-4zM191 165h4v4h-4zM196 165h5v4h-5zM202 165h5v4h-5zM209 165h4v4h-4zM214 165h4v5h-4zM27 166h5v1h-5zM230 166h5v1h-5zM27 167h3v9h-3zM31 167h1v2h-1zM36 167h3v1h-3zM223 167h3v1h-3zM230 167h1v2h-1zM232 167h3v9h-3zM18 168h8v1h-8zM36 168h1v1h-1zM38 168h1v8h-1zM223 168h1v8h-1zM225 168h1v1h-1zM236 168h9v1h-9zM18 169h1v6h-1zM25 169h1v6h-1zM31 169h6v1h-6zM44 169h10v1h-10zM55 169h70v2h-70zM126 169h10v2h-10zM137 169h70v2h-70zM208 169h5v2h-5zM225 169h6v1h-6zM236 169h1v6h-1zM244 169h1v6h-1zM43 170h11v1h-11zM214 170h5v1h-5zM43 171h1v5h-1zM45 171h1v5h-1zM51 171h1v5h-1zM57 171h1v5h-1zM62 171h2v5h-2zM68 171h2v5h-2zM74 171h1v5h-1zM79 171h2v5h-2zM86 171h1v5h-1zM92 171h1v5h-1zM97 171h2v5h-2zM103 171h2v5h-2zM109 171h2v5h-2zM115 171h2v5h-2zM122 171h1v5h-1zM128 171h1v5h-1zM133 171h1v5h-1zM138 171h2v5h-2zM144 171h2v5h-2zM150 171h2v5h-2zM157 171h1v5h-1zM163 171h1v5h-1zM168 171h2v5h-2zM174 171h2v5h-2zM180 171h2v5h-2zM186 171h1v5h-1zM192 171h1v5h-1zM198 171h1v5h-1zM203 171h2v5h-2zM209 171h2v5h-2zM215 171h2v5h-2zM218 171h1v5h-1zM18 175h8v1h-8zM236 175h9v1h-9zM19 176h1v3h-1zM25 176h1v3h-1zM27 176h12v1h-12zM43 176h176v1h-176zM223 176h12v1h-12zM236 176h1v3h-1zM244 176h1v3h-1zM27 177h2v1h-2zM45 177h2v1h-2zM48 177h2v1h-2zM51 177h2v1h-2zM54 177h2v1h-2zM57 177h2v1h-2zM60 177h2v1h-2zM63 177h2v1h-2zM66 177h2v1h-2zM69 177h2v1h-2zM72 177h2v1h-2zM75 177h2v1h-2zM78 177h2v1h-2zM81 177h2v1h-2zM84 177h2v1h-2zM87 177h2v1h-2zM90 177h2v1h-2zM93 177h2v1h-2zM96 177h2v1h-2zM99 177h2v1h-2zM102 177h2v1h-2zM105 177h2v1h-2zM108 177h2v1h-2zM111 177h2v1h-2zM114 177h2v1h-2zM117 177h2v1h-2zM120 177h2v1h-2zM123 177h2v1h-2zM126 177h2v1h-2zM129 177h2v1h-2zM132 177h2v1h-2zM135 177h2v1h-2zM138 177h2v1h-2zM141 177h2v1h-2zM144 177h2v1h-2zM147 177h2v1h-2zM150 177h2v1h-2zM153 177h2v1h-2zM156 177h2v1h-2zM159 177h2v1h-2zM162 177h2v1h-2zM165 177h2v1h-2zM168 177h2v1h-2zM171 177h2v1h-2zM174 177h2v1h-2zM177 177h2v1h-2zM180 177h2v1h-2zM183 177h2v1h-2zM186 177h2v1h-2zM189 177h2v1h-2zM192 177h2v1h-2zM195 177h2v1h-2zM198 177h2v1h-2zM201 177h2v1h-2zM204 177h2v1h-2zM207 177h2v1h-2zM210 177h2v1h-2zM213 177h2v1h-2zM216 177h1v1h-1zM233 177h2v1h-2zM19 179h226v1h-226zM19 181h226v1h-226zM19 182h1v6h-1zM25 182h12v1h-12zM225 182h12v1h-12zM244 182h1v6h-1zM25 183h1v5h-1zM27 183h2v3h-2zM36 183h1v4h-1zM44 183h174v1h-174zM225 183h1v4h-1zM233 183h2v3h-2zM236 183h1v5h-1zM44 184h4v4h-4zM50 184h4v4h-4zM55 184h5v4h-5zM61 184h5v4h-5zM68 184h4v4h-4zM73 184h4v4h-4zM78 184h5v4h-5zM85 184h4v4h-4zM90 184h5v4h-5zM96 184h5v4h-5zM103 184h4v4h-4zM108 184h5v4h-5zM114 184h5v4h-5zM121 184h4v4h-4zM126 184h5v4h-5zM132 184h4v4h-4zM138 184h4v4h-4zM143 184h5v4h-5zM149 184h5v4h-5zM156 184h4v4h-4zM161 184h5v4h-5zM167 184h5v4h-5zM174 184h4v4h-4zM179 184h5v4h-5zM185 184h4v4h-4zM191 184h4v4h-4zM196 184h5v4h-5zM202 184h5v4h-5zM209 184h4v4h-4zM214 184h4v5h-4zM27 186h5v1h-5zM230 186h5v1h-5zM27 187h3v9h-3zM31 187h1v2h-1zM36 187h3v1h-3zM223 187h3v1h-3zM230 187h1v2h-1zM232 187h3v9h-3zM18 188h8v1h-8zM36 188h1v1h-1zM38 188h1v8h-1zM44 188h10v1h-10zM55 188h70v2h-70zM126 188h10v2h-10zM137 188h70v2h-70zM208 188h5v2h-5zM223 188h1v8h-1zM225 188h1v1h-1zM236 188h9v1h-9zM18 189h1v6h-1zM25 189h1v6h-1zM31 189h6v1h-6zM43 189h11v1h-11zM214 189h5v1h-5zM225 189h6v1h-6zM236 189h1v6h-1zM244 189h1v6h-1zM43 190h1v6h-1zM45 190h1v6h-1zM51 190h1v6h-1zM57 190h1v6h-1zM62 190h2v6h-2zM68 190h2v6h-2zM74 190h1v6h-1zM79 190h2v6h-2zM86 190h1v6h-1zM92 190h1v6h-1zM97 190h2v6h-2zM103 190h2v6h-2zM109 190h2v6h-2zM115 190h2v6h-2zM122 190h1v6h-1zM128 190h1v6h-1zM133 190h1v6h-1zM138 190h2v6h-2zM144 190h2v6h-2zM150 190h2v6h-2zM157 190h1v6h-1zM163 190h1v6h-1zM168 190h2v6h-2zM174 190h2v6h-2zM180 190h2v6h-2zM186 190h1v6h-1zM192 190h1v6h-1zM198 190h1v6h-1zM203 190h2v6h-2zM209 190h2v6h-2zM215 190h2v6h-2zM218 190h1v6h-1zM18 195h8v1h-8zM236 195h9v1h-9zM19 196h1v3h-1zM25 196h1v3h-1zM27 196h12v1h-12zM43 196h176v1h-176zM223 196h12v1h-12zM236 196h1v3h-1zM244 196h1v3h-1zM27 197h2v1h-2zM45 197h2v1h-2zM48 197h2v1h-2zM51 197h2v1h-2zM54 197h2v1h-2zM57 197h2v1h-2zM60 197h2v1h-2zM63 197h2v1h-2zM66 197h2v1h-2zM69 197h2v1h-2zM72 197h2v1h-2zM75 197h2v1h-2zM78 197h2v1h-2zM81 197h2v1h-2zM84 197h2v1h-2zM87 197h2v1h-2zM90 197h2v1h-2zM93 197h2v1h-2zM96 197h2v1h-2zM99 197h2v1h-2zM102 197h2v1h-2zM105 197h2v1h-2zM108 197h2v1h-2zM111 197h2v1h-2zM114 197h2v1h-2zM117 197h2v1h-2zM120 197h2v1h-2zM123 197h2v1h-2zM126 197h2v1h-2zM129 197h2v1h-2zM132 197h2v1h-2zM135 197h2v1h-2zM138 197h2v1h-2zM141 197h2v1h-2zM144 197h2v1h-2zM147 197h2v1h-2zM150 197h2v1h-2zM153 197h2v1h-2zM156 197h2v1h-2zM159 197h2v1h-2zM162 197h2v1h-2zM165 197h2v1h-2zM168 197h2v1h-2zM171 197h2v1h-2zM174 197h2v1h-2zM177 197h2v1h-2zM180 197h2v1h-2zM183 197h2v1h-2zM186 197h2v1h-2zM189 197h2v1h-2zM192 197h2v1h-2zM195 197h2v1h-2zM198 197h2v1h-2zM201 197h2v1h-2zM204 197h2v1h-2zM207 197h2v1h-2zM210 197h2v1h-2zM213 197h2v1h-2zM216 197h1v1h-1zM233 197h2v1h-2zM19 199h226v1h-226z"/></g>
<g id="bank-labels"><path fill="#fff" d="M104 70h55v14h-55zM104 153h55v15h-55z"/><path d="M102 68h59v2h-59zM102 70h2v14h-2zM159 70h2v14h-2zM102 84h59v2h-59zM102 151h59v2h-59zM102 153h2v15h-2zM159 153h2v15h-2zM102 168h59v2h-59z"/></g>
<g id="qfp"><path fill="#fff" d="M318 187h4v3h-4zM329 187h1v3h-1zM332 187h1v3h-1zM335 187h1v3h-1zM346 187h1v3h-1zM349 187h1v3h-1zM352 187h1v3h-1zM364 187h1v3h-1zM367 187h1v3h-1zM370 187h1v3h-1zM379 187h4v3h-4zM318 190h2v3h-2zM381 190h2v3h-2zM326 194h3v1h-3zM325 195h5v3h-5zM381 195h2v1h-2zM318 196h2v1h-2zM326 198h3v1h-3zM381 198h2v1h-2zM381 201h2v1h-2zM381 204h2v1h-2zM137 206h4v3h-4zM145 206h1v3h-1zM148 206h1v3h-1zM151 206h1v3h-1zM162 206h1v3h-1zM165 206h1v3h-1zM168 206h1v3h-1zM176 206h1v3h-1zM179 206h1v3h-1zM182 206h1v3h-1zM185 206h1v3h-1zM198 206h4v3h-4zM318 206h2v1h-2zM137 209h2v3h-2zM200 209h2v3h-2zM318 209h2v1h-2zM318 212h2v1h-2zM144 214h4v4h-4zM318 215h2v1h-2zM381 216h2v1h-2zM137 217h2v1h-2zM381 219h2v1h-2zM137 220h2v1h-2zM381 222h2v1h-2zM137 223h2v1h-2zM137 226h2v1h-2zM200 227h2v1h-2zM318 227h2v1h-2zM200 230h2v1h-2zM318 230h2v1h-2zM381 232h2v1h-2zM200 233h2v1h-2zM318 233h2v1h-2zM381 235h2v1h-2zM137 238h2v1h-2zM381 238h2v1h-2zM137 241h2v1h-2zM200 243h2v1h-2zM137 244h2v1h-2zM200 246h2v1h-2zM318 246h2v4h-2zM381 246h2v4h-2zM200 249h2v1h-2zM318 250h4v3h-4zM335 250h1v3h-1zM338 250h1v3h-1zM341 250h1v3h-1zM352 250h1v3h-1zM355 250h1v3h-1zM358 250h1v3h-1zM369 250h1v3h-1zM372 250h1v3h-1zM375 250h1v3h-1zM379 250h4v3h-4zM137 255h2v1h-2zM137 258h2v1h-2zM137 261h2v1h-2zM200 261h2v1h-2zM137 264h2v1h-2zM200 264h2v1h-2zM137 266h2v3h-2zM200 266h2v3h-2zM137 269h4v3h-4zM151 269h1v3h-1zM154 269h1v3h-1zM157 269h1v3h-1zM168 269h1v3h-1zM171 269h1v3h-1zM174 269h1v3h-1zM181 269h1v3h-1zM184 269h1v3h-1zM187 269h1v3h-1zM190 269h1v3h-1zM198 269h4v3h-4z"/><path d="M322 187h7v3h-7zM330 187h2v3h-2zM333 187h2v3h-2zM336 187h10v3h-10zM347 187h2v3h-2zM350 187h2v3h-2zM353 187h11v3h-11zM365 187h2v3h-2zM368 187h2v3h-2zM371 187h8v3h-8zM320 190h61v3h-61zM318 193h65v1h-65zM318 194h8v1h-8zM329 194h54v1h-54zM318 195h7v1h-7zM330 195h51v1h-51zM320 196h5v1h-5zM330 196h53v2h-53zM318 197h7v1h-7zM318 198h8v1h-8zM329 198h52v1h-52zM318 199h65v2h-65zM318 201h63v1h-63zM318 202h65v2h-65zM318 204h63v1h-63zM318 205h65v1h-65zM141 206h4v3h-4zM146 206h2v3h-2zM149 206h2v3h-2zM152 206h10v3h-10zM163 206h2v3h-2zM166 206h2v3h-2zM169 206h7v3h-7zM177 206h2v3h-2zM180 206h2v3h-2zM183 206h2v3h-2zM186 206h12v3h-12zM320 206h63v1h-63zM318 207h65v2h-65zM139 209h61v3h-61zM320 209h63v1h-63zM318 210h65v2h-65zM137 212h65v2h-65zM320 212h63v1h-63zM318 213h65v2h-65zM137 214h7v3h-7zM148 214h54v4h-54zM320 215h63v1h-63zM318 216h63v1h-63zM139 217h5v1h-5zM318 217h65v2h-65zM137 218h65v2h-65zM318 219h63v1h-63zM139 220h63v1h-63zM318 220h65v2h-65zM137 221h65v2h-65zM318 222h63v1h-63zM139 223h63v1h-63zM318 223h65v4h-65zM137 224h65v2h-65zM139 226h63v1h-63zM137 227h63v1h-63zM320 227h63v1h-63zM137 228h65v2h-65zM318 228h65v2h-65zM137 230h63v1h-63zM320 230h63v1h-63zM137 231h65v2h-65zM318 231h65v1h-65zM318 232h63v1h-63zM137 233h63v1h-63zM320 233h63v1h-63zM137 234h65v4h-65zM318 234h65v1h-65zM318 235h63v1h-63zM318 236h65v2h-65zM139 238h63v1h-63zM318 238h63v1h-63zM137 239h65v2h-65zM318 239h65v7h-65zM139 241h63v1h-63zM137 242h65v1h-65zM137 243h63v1h-63zM139 244h63v1h-63zM137 245h65v1h-65zM137 246h63v1h-63zM320 246h61v4h-61zM137 247h65v2h-65zM137 249h63v1h-63zM137 250h65v5h-65zM322 250h13v3h-13zM336 250h2v3h-2zM339 250h2v3h-2zM342 250h10v3h-10zM353 250h2v3h-2zM356 250h2v3h-2zM359 250h10v3h-10zM370 250h2v3h-2zM373 250h2v3h-2zM376 250h3v3h-3zM139 255h63v1h-63zM137 256h65v2h-65zM139 258h63v1h-63zM137 259h65v2h-65zM139 261h61v1h-61zM137 262h65v2h-65zM139 264h61v1h-61zM137 265h65v1h-65zM139 266h61v3h-61zM141 269h10v3h-10zM152 269h2v3h-2zM155 269h2v3h-2zM158 269h10v3h-10zM169 269h2v3h-2zM172 269h2v3h-2zM175 269h6v3h-6zM182 269h2v3h-2zM185 269h2v3h-2zM188 269h2v3h-2zM191 269h7v3h-7z"/></g>
<g id="jumpers"><path fill="#fff" d="M230 267h1v4h-1zM234 267h1v4h-1zM238 267h1v4h-1zM241 267h1v4h-1zM247 267h1v4h-1zM251 267h1v4h-1zM255 267h1v4h-1zM258 267h1v4h-1zM706 410h1v5h-1zM711 410h1v5h-1z"/><path d="M229 266h14v1h-14zM246 266h14v1h-14zM229 267h1v4h-1zM231 267h3v4h-3zM235 267h3v4h-3zM239 267h2v4h-2zM242 267h1v4h-1zM246 267h1v4h-1zM248 267h3v4h-3zM252 267h3v4h-3zM256 267h2v4h-2zM259 267h1v4h-1zM229 271h14v1h-14zM246 271h14v1h-14zM700 409h13v1h-13zM700 410h6v5h-6zM707 410h4v5h-4zM712 410h1v5h-1zM700 415h13v1h-13z"/></g>
<g id="headers"><path fill="#fff" d="M18 339h5v1h-5zM22 340h1v1h-1zM18 341h5v1h-5zM18 342h1v1h-1zM21 342h2v1h-2zM18 343h5v2h-5zM34 344h5v1h-5zM51 344h5v1h-5zM22 345h1v5h-1zM35 346h3v2h-3zM34 349h5v1h-5zM51 349h5v1h-5zM18 350h5v1h-5zM22 351h1v5h-1zM34 355h5v1h-5zM18 356h5v1h-5zM22 357h1v5h-1zM34 361h5v1h-5zM18 362h5v1h-5zM22 363h1v4h-1zM34 366h5v2h-5zM18 367h5v1h-5z"/><path d="M17 338h7v1h-7zM17 339h1v1h-1zM23 339h1v29h-1zM17 340h5v1h-5zM17 341h1v4h-1zM19 342h2v1h-2zM33 343h7v1h-7zM50 343h7v1h-7zM33 344h1v1h-1zM39 344h1v1h-1zM50 344h1v1h-1zM56 344h1v1h-1zM17 345h5v5h-5zM33 345h7v1h-7zM50 345h7v4h-7zM33 346h2v2h-2zM38 346h2v2h-2zM33 348h7v1h-7zM33 349h1v1h-1zM39 349h1v1h-1zM50 349h1v1h-1zM56 349h1v1h-1zM17 350h1v1h-1zM33 350h7v5h-7zM50 350h7v6h-7zM17 351h5v5h-5zM33 355h1v1h-1zM39 355h1v1h-1zM17 356h1v1h-1zM33 356h7v5h-7zM17 357h5v5h-5zM33 361h1v1h-1zM39 361h1v1h-1zM17 362h1v1h-1zM33 362h7v4h-7zM17 363h5v4h-5zM33 366h1v2h-1zM39 366h1v2h-1zM17 367h1v1h-1zM17 368h7v1h-7zM33 368h7v1h-7z"/></g>
<g id="npu"><path fill="#fff" d="M39 404h2v1h-2zM44 404h3v1h-3zM50 404h3v1h-3zM56 404h2v1h-2zM62 404h2v1h-2zM67 404h3v1h-3zM73 404h3v1h-3zM79 404h2v1h-2zM86 404h2v1h-2zM91 404h3v1h-3zM97 404h3v1h-3zM102 404h2v1h-2zM109 404h2v1h-2zM114 404h3v1h-3zM120 404h3v1h-3zM38 405h3v1h-3zM44 405h2v1h-2zM51 405h2v1h-2zM56 405h3v1h-3zM61 405h3v1h-3zM67 405h2v1h-2zM74 405h2v1h-2zM79 405h3v1h-3zM85 405h3v1h-3zM91 405h2v1h-2zM98 405h2v1h-2zM102 405h3v1h-3zM108 405h3v1h-3zM114 405h2v1h-2zM121 405h2v1h-2zM38 409h2v1h-2zM45 409h2v1h-2zM50 409h3v1h-3zM56 409h3v1h-3zM61 409h2v1h-2zM68 409h2v1h-2zM73 409h3v1h-3zM79 409h3v1h-3zM85 409h2v1h-2zM92 409h2v1h-2zM97 409h3v1h-3zM102 409h3v1h-3zM108 409h2v1h-2zM115 409h2v1h-2zM120 409h3v1h-3zM38 410h3v1h-3zM44 410h3v1h-3zM50 410h2v1h-2zM57 410h2v1h-2zM61 410h3v1h-3zM67 410h3v1h-3zM73 410h2v1h-2zM80 410h2v1h-2zM85 410h3v1h-3zM91 410h3v1h-3zM97 410h2v1h-2zM103 410h2v1h-2zM108 410h3v1h-3zM114 410h3v1h-3zM120 410h2v1h-2zM38 415h3v1h-3zM44 415h2v1h-2zM51 415h2v1h-2zM56 415h3v1h-3zM61 415h3v1h-3zM67 415h2v1h-2zM74 415h2v1h-2zM79 415h3v1h-3zM85 415h3v1h-3zM91 415h2v1h-2zM98 415h2v1h-2zM102 415h3v1h-3zM108 415h3v1h-3zM114 415h2v1h-2zM121 415h2v1h-2zM39 416h2v1h-2zM44 416h3v1h-3zM50 416h3v1h-3zM56 416h2v1h-2zM62 416h2v1h-2zM67 416h3v1h-3zM73 416h3v1h-3zM79 416h2v1h-2zM86 416h2v1h-2zM91 416h3v1h-3zM97 416h3v1h-3zM102 416h2v1h-2zM109 416h2v1h-2zM114 416h3v1h-3zM120 416h3v1h-3zM38 421h3v1h-3zM44 421h3v1h-3zM50 421h2v1h-2zM108 421h3v1h-3zM114 421h3v1h-3zM120 421h2v1h-2zM38 422h2v1h-2zM45 422h2v1h-2zM50 422h3v1h-3zM108 422h2v1h-2zM115 422h2v1h-2zM120 422h3v1h-3zM57 423h46v39h-46zM39 427h2v1h-2zM44 427h3v1h-3zM50 427h3v1h-3zM109 427h2v1h-2zM114 427h3v1h-3zM120 427h3v1h-3zM38 428h3v1h-3zM44 428h2v1h-2zM51 428h2v1h-2zM108 428h3v1h-3zM114 428h2v1h-2zM121 428h2v1h-2zM38 432h2v1h-2zM45 432h2v1h-2zM50 432h3v1h-3zM108 432h2v1h-2zM115 432h2v1h-2zM120 432h3v1h-3zM38 433h3v1h-3zM44 433h3v1h-3zM50 433h2v1h-2zM108 433h3v1h-3zM114 433h3v1h-3zM120 433h2v1h-2zM38 438h3v1h-3zM44 438h2v1h-2zM51 438h2v1h-2zM108 438h3v1h-3zM114 438h2v1h-2zM121 438h2v1h-2zM39 439h2v1h-2zM44 439h3v1h-3zM50 439h3v1h-3zM109 439h2v1h-2zM114 439h3v1h-3zM120 439h3v1h-3zM38 444h3v1h-3zM44 444h3v1h-3zM50 444h2v1h-2zM108 444h3v1h-3zM114 444h3v1h-3zM120 444h2v1h-2zM38 445h2v1h-2zM45 445h2v1h-2zM50 445h3v1h-3zM108 445h2v1h-2zM115 445h2v1h-2zM120 445h3v1h-3zM39 450h2v1h-2zM44 450h3v1h-3zM50 450h3v1h-3zM109 450h2v1h-2zM114 450h3v1h-3zM120 450h3v1h-3zM38 451h3v1h-3zM44 451h2v1h-2zM51 451h2v1h-2zM108 451h3v1h-3zM114 451h2v1h-2zM121 451h2v1h-2zM38 455h2v1h-2zM45 455h2v1h-2zM50 455h3v1h-3zM108 455h2v1h-2zM115 455h2v1h-2zM120 455h3v1h-3zM38 456h3v1h-3zM44 456h3v1h-3zM50 456h2v1h-2zM108 456h3v1h-3zM114 456h3v1h-3zM120 456h2v1h-2zM38 461h3v1h-3zM44 461h2v1h-2zM51 461h2v1h-2zM108 461h3v1h-3zM114 461h2v1h-2zM121 461h2v1h-2zM39 462h2v1h-2zM44 462h3v1h-3zM50 462h3v1h-3zM57 462h41v5h-41zM102 462h1v2h-1zM109 462h2v1h-2zM114 462h3v1h-3zM120 462h3v1h-3zM102 465h1v2h-1zM38 467h3v1h-3zM44 467h3v1h-3zM50 467h2v1h-2zM57 467h46v1h-46zM108 467h3v1h-3zM114 467h3v1h-3zM120 467h2v1h-2zM38 468h2v1h-2zM45 468h2v1h-2zM50 468h3v1h-3zM108 468h2v1h-2zM115 468h2v1h-2zM120 468h3v1h-3zM39 472h2v1h-2zM44 472h3v1h-3zM50 472h3v1h-3zM56 472h2v1h-2zM62 472h2v1h-2zM67 472h3v1h-3zM73 472h3v1h-3zM79 472h2v1h-2zM86 472h2v1h-2zM91 472h3v1h-3zM97 472h3v1h-3zM102 472h2v1h-2zM109 472h2v1h-2zM114 472h3v1h-3zM120 472h3v1h-3zM38 473h3v1h-3zM44 473h2v1h-2zM51 473h2v1h-2zM56 473h3v1h-3zM61 473h3v1h-3zM67 473h2v1h-2zM74 473h2v1h-2zM79 473h3v1h-3zM85 473h3v1h-3zM91 473h2v1h-2zM98 473h2v1h-2zM102 473h3v1h-3zM108 473h3v1h-3zM114 473h2v1h-2zM121 473h2v1h-2zM38 478h2v1h-2zM45 478h2v1h-2zM50 478h3v1h-3zM56 478h3v1h-3zM61 478h2v1h-2zM68 478h2v1h-2zM73 478h3v1h-3zM79 478h3v1h-3zM85 478h2v1h-2zM92 478h2v1h-2zM97 478h3v1h-3zM102 478h3v1h-3zM108 478h2v1h-2zM115 478h2v1h-2zM120 478h3v1h-3zM38 479h3v1h-3zM44 479h3v1h-3zM50 479h2v1h-2zM57 479h2v1h-2zM61 479h3v1h-3zM67 479h3v1h-3zM73 479h2v1h-2zM80 479h2v1h-2zM85 479h3v1h-3zM91 479h3v1h-3zM97 479h2v1h-2zM103 479h2v1h-2zM108 479h3v1h-3zM114 479h3v1h-3zM120 479h2v1h-2zM38 484h3v1h-3zM44 484h2v1h-2zM51 484h2v1h-2zM56 484h3v1h-3zM61 484h3v1h-3zM67 484h2v1h-2zM74 484h2v1h-2zM79 484h3v1h-3zM85 484h3v1h-3zM91 484h2v1h-2zM98 484h2v1h-2zM102 484h3v1h-3zM108 484h3v1h-3zM114 484h2v1h-2zM121 484h2v1h-2zM39 485h2v1h-2zM44 485h3v1h-3zM50 485h3v1h-3zM56 485h2v1h-2zM62 485h2v1h-2zM67 485h3v1h-3zM73 485h3v1h-3zM79 485h2v1h-2zM86 485h2v1h-2zM91 485h3v1h-3zM97 485h3v1h-3zM102 485h2v1h-2zM109 485h2v1h-2zM114 485h3v1h-3zM120 485h3v1h-3z"/><path d="M33 400h94v4h-94zM33 404h6v1h-6zM41 404h3v2h-3zM47 404h3v1h-3zM53 404h3v2h-3zM58 404h4v1h-4zM64 404h3v2h-3zM70 404h3v1h-3zM76 404h3v2h-3zM81 404h5v1h-5zM88 404h3v2h-3zM94 404h3v1h-3zM100 404h2v2h-2zM104 404h5v1h-5zM111 404h3v2h-3zM117 404h3v1h-3zM123 404h4v2h-4zM33 405h5v1h-5zM46 405h5v1h-5zM59 405h2v1h-2zM69 405h5v1h-5zM82 405h3v1h-3zM93 405h5v1h-5zM105 405h3v1h-3zM116 405h5v1h-5zM33 406h94v3h-94zM33 409h5v2h-5zM40 409h5v1h-5zM47 409h3v2h-3zM53 409h3v1h-3zM59 409h2v2h-2zM63 409h5v1h-5zM70 409h3v2h-3zM76 409h3v1h-3zM82 409h3v2h-3zM87 409h5v1h-5zM94 409h3v2h-3zM100 409h2v1h-2zM105 409h3v2h-3zM110 409h5v1h-5zM117 409h3v2h-3zM123 409h4v1h-4zM41 410h3v1h-3zM52 410h5v1h-5zM64 410h3v1h-3zM75 410h5v1h-5zM88 410h3v1h-3zM99 410h4v1h-4zM111 410h3v1h-3zM122 410h5v1h-5zM33 411h94v4h-94zM33 415h5v1h-5zM41 415h3v2h-3zM46 415h5v1h-5zM53 415h3v2h-3zM59 415h2v1h-2zM64 415h3v2h-3zM69 415h5v1h-5zM76 415h3v2h-3zM82 415h3v1h-3zM88 415h3v2h-3zM93 415h5v1h-5zM100 415h2v2h-2zM105 415h3v1h-3zM111 415h3v2h-3zM116 415h5v1h-5zM123 415h4v2h-4zM33 416h6v1h-6zM47 416h3v1h-3zM58 416h4v1h-4zM70 416h3v1h-3zM81 416h5v1h-5zM94 416h3v1h-3zM104 416h5v1h-5zM117 416h3v1h-3zM33 417h94v4h-94zM33 421h5v2h-5zM41 421h3v1h-3zM47 421h3v2h-3zM52 421h56v1h-56zM111 421h3v1h-3zM117 421h3v2h-3zM122 421h5v1h-5zM40 422h5v1h-5zM53 422h55v1h-55zM110 422h5v1h-5zM123 422h4v1h-4zM33 423h24v4h-24zM103 423h24v4h-24zM33 427h6v1h-6zM41 427h3v2h-3zM47 427h3v1h-3zM53 427h4v2h-4zM103 427h6v1h-6zM111 427h3v2h-3zM117 427h3v1h-3zM123 427h4v2h-4zM33 428h5v1h-5zM46 428h5v1h-5zM103 428h5v1h-5zM116 428h5v1h-5zM33 429h24v3h-24zM103 429h24v3h-24zM33 432h5v2h-5zM40 432h5v1h-5zM47 432h3v2h-3zM53 432h4v1h-4zM103 432h5v2h-5zM110 432h5v1h-5zM117 432h3v2h-3zM123 432h4v1h-4zM41 433h3v1h-3zM52 433h5v1h-5zM111 433h3v1h-3zM122 433h5v1h-5zM33 434h24v4h-24zM103 434h24v4h-24zM33 438h5v1h-5zM41 438h3v2h-3zM46 438h5v1h-5zM53 438h4v2h-4zM103 438h5v1h-5zM111 438h3v2h-3zM116 438h5v1h-5zM123 438h4v2h-4zM33 439h6v1h-6zM47 439h3v1h-3zM103 439h6v1h-6zM117 439h3v1h-3zM33 440h24v4h-24zM103 440h24v4h-24zM33 444h5v2h-5zM41 444h3v1h-3zM47 444h3v2h-3zM52 444h5v1h-5zM103 444h5v2h-5zM111 444h3v1h-3zM117 444h3v2h-3zM122 444h5v1h-5zM40 445h5v1h-5zM53 445h4v1h-4zM110 445h5v1h-5zM123 445h4v1h-4zM33 446h24v4h-24zM103 446h24v4h-24zM33 450h6v1h-6zM41 450h3v2h-3zM47 450h3v1h-3zM53 450h4v2h-4zM103 450h6v1h-6zM111 450h3v2h-3zM117 450h3v1h-3zM123 450h4v2h-4zM33 451h5v1h-5zM46 451h5v1h-5zM103 451h5v1h-5zM116 451h5v1h-5zM33 452h24v3h-24zM103 452h24v3h-24zM33 455h5v2h-5zM40 455h5v1h-5zM47 455h3v2h-3zM53 455h4v1h-4zM103 455h5v2h-5zM110 455h5v1h-5zM117 455h3v2h-3zM123 455h4v1h-4zM41 456h3v1h-3zM52 456h5v1h-5zM111 456h3v1h-3zM122 456h5v1h-5zM33 457h24v4h-24zM103 457h24v4h-24zM33 461h5v1h-5zM41 461h3v2h-3zM46 461h5v1h-5zM53 461h4v2h-4zM103 461h5v1h-5zM111 461h3v2h-3zM116 461h5v1h-5zM123 461h4v2h-4zM33 462h6v1h-6zM47 462h3v1h-3zM98 462h4v2h-4zM103 462h6v1h-6zM117 462h3v1h-3zM33 463h24v4h-24zM103 463h24v1h-24zM98 464h29v1h-29zM98 465h4v2h-4zM103 465h24v2h-24zM33 467h5v2h-5zM41 467h3v1h-3zM47 467h3v2h-3zM52 467h5v1h-5zM103 467h5v1h-5zM111 467h3v1h-3zM117 467h3v2h-3zM122 467h5v1h-5zM40 468h5v1h-5zM53 468h55v1h-55zM110 468h5v1h-5zM123 468h4v1h-4zM33 469h94v3h-94zM33 472h6v1h-6zM41 472h3v2h-3zM47 472h3v1h-3zM53 472h3v2h-3zM58 472h4v1h-4zM64 472h3v2h-3zM70 472h3v1h-3zM76 472h3v2h-3zM81 472h5v1h-5zM88 472h3v2h-3zM94 472h3v1h-3zM100 472h2v2h-2zM104 472h5v1h-5zM111 472h3v2h-3zM117 472h3v1h-3zM123 472h4v2h-4zM33 473h5v1h-5zM46 473h5v1h-5zM59 473h2v1h-2zM69 473h5v1h-5zM82 473h3v1h-3zM93 473h5v1h-5zM105 473h3v1h-3zM116 473h5v1h-5zM33 474h94v4h-94zM33 478h5v2h-5zM40 478h5v1h-5zM47 478h3v2h-3zM53 478h3v1h-3zM59 478h2v2h-2zM63 478h5v1h-5zM70 478h3v2h-3zM76 478h3v1h-3zM82 478h3v2h-3zM87 478h5v1h-5zM94 478h3v2h-3zM100 478h2v1h-2zM105 478h3v2h-3zM110 478h5v1h-5zM117 478h3v2h-3zM123 478h4v1h-4zM41 479h3v1h-3zM52 479h5v1h-5zM64 479h3v1h-3zM75 479h5v1h-5zM88 479h3v1h-3zM99 479h4v1h-4zM111 479h3v1h-3zM122 479h5v1h-5zM33 480h94v4h-94zM33 484h5v1h-5zM41 484h3v2h-3zM46 484h5v1h-5zM53 484h3v2h-3zM59 484h2v1h-2zM64 484h3v2h-3zM69 484h5v1h-5zM76 484h3v2h-3zM82 484h3v1h-3zM88 484h3v2h-3zM93 484h5v1h-5zM100 484h2v2h-2zM105 484h3v1h-3zM111 484h3v2h-3zM116 484h5v1h-5zM123 484h4v2h-4zM33 485h6v1h-6zM47 485h3v1h-3zM58 485h4v1h-4zM70 485h3v1h-3zM81 485h5v1h-5zM94 485h3v1h-3zM104 485h5v1h-5zM117 485h3v1h-3zM33 486h94v5h-94z"/></g>
<g id="cpu"><path fill="#fff" d="M291 428h28v14h-28zM347 473h3v1h-3zM345 474h7v2h-7zM344 476h9v3h-9zM345 479h7v2h-7zM347 481h3v1h-3z"/><path d="M252 381h107v47h-107zM252 428h39v14h-39zM319 428h40v14h-40zM252 442h107v31h-107zM252 473h95v1h-95zM350 473h9v1h-9zM252 474h93v2h-93zM352 474h7v2h-7zM252 476h92v3h-92zM353 476h6v3h-6zM252 479h93v2h-93zM352 479h6v1h-6zM352 480h5v1h-5zM252 481h95v1h-95zM350 481h6v1h-6zM252 482h103v1h-103zM252 483h102v1h-102zM252 484h101v1h-101zM252 485h100v1h-100zM252 486h99v1h-99zM252 487h98v1h-98z"/></g>
<g id="bios"><path fill="#fff" d="M389 407h4v1h-4zM395 407h4v1h-4zM401 407h4v1h-4zM407 407h4v1h-4zM413 407h4v1h-4zM419 407h4v1h-4zM425 407h4v1h-4zM431 407h4v1h-4zM437 407h4v1h-4zM443 407h4v1h-4zM449 407h4v1h-4zM455 407h4v1h-4zM461 407h4v1h-4zM467 407h4v1h-4zM472 407h1v5h-1zM392 419h77v1h-77zM391 420h79v12h-79zM472 420h3v12h-3zM392 432h77v1h-77zM472 454h1v5h-1zM392 465h77v1h-77zM391 466h79v12h-79zM472 466h3v12h-3zM392 478h77v1h-77zM389 490h4v1h-4zM395 490h4v1h-4zM401 490h4v1h-4zM407 490h4v1h-4zM413 490h4v1h-4zM419 490h4v1h-4zM425 490h4v1h-4zM431 490h4v1h-4zM437 490h4v1h-4zM443 490h4v1h-4zM449 490h4v1h-4zM455 490h4v1h-4zM461 490h4v1h-4zM467 490h4v1h-4z"/><path d="M386 405h89v2h-89zM386 407h3v1h-3zM393 407h2v1h-2zM399 407h2v1h-2zM405 407h2v1h-2zM411 407h2v1h-2zM417 407h2v1h-2zM423 407h2v1h-2zM429 407h2v1h-2zM435 407h2v1h-2zM441 407h2v1h-2zM447 407h2v1h-2zM453 407h2v1h-2zM459 407h2v1h-2zM465 407h2v1h-2zM471 407h1v1h-1zM473 407h2v5h-2zM386 408h86v4h-86zM386 412h89v7h-89zM386 419h6v1h-6zM469 419h6v1h-6zM386 420h5v12h-5zM470 420h2v12h-2zM386 432h6v1h-6zM469 432h6v1h-6zM386 433h89v13h-89zM386 452h89v2h-89zM386 454h86v5h-86zM473 454h2v5h-2zM386 459h89v6h-89zM386 465h6v1h-6zM469 465h6v1h-6zM386 466h5v12h-5zM470 466h2v12h-2zM386 478h6v1h-6zM469 478h6v1h-6zM386 479h89v11h-89zM386 490h3v1h-3zM393 490h2v1h-2zM399 490h2v1h-2zM405 490h2v1h-2zM411 490h2v1h-2zM417 490h2v1h-2zM423 490h2v1h-2zM429 490h2v1h-2zM435 490h2v1h-2zM441 490h2v1h-2zM447 490h2v1h-2zM453 490h2v1h-2zM459 490h2v1h-2zM465 490h2v1h-2zM471 490h4v1h-4zM386 491h89v2h-89z"/></g>
<g id="plcc"><path fill="#fff" d="M520 437h19v5h-19zM540 437h8v5h-8zM549 437h13v5h-13zM511 438h4v4h-4zM517 442h4v1h-4zM511 443h9v1h-9zM511 444h8v1h-8zM563 444h5v10h-5zM511 445h7v1h-7zM511 446h6v1h-6zM511 448h6v28h-6zM563 455h5v10h-5zM563 466h5v8h-5zM563 475h5v8h-5zM511 477h6v11h-6zM563 484h5v4h-5zM517 489h2v5h-2zM520 489h19v5h-19zM540 489h23v2h-23zM540 491h12v3h-12zM554 491h2v3h-2zM557 491h6v3h-6z"/><path d="M513 435h57v1h-57zM512 436h58v1h-58zM511 437h9v1h-9zM539 437h1v5h-1zM548 437h1v5h-1zM562 437h8v5h-8zM510 438h1v1h-1zM515 438h5v4h-5zM509 439h2v3h-2zM509 442h8v1h-8zM521 442h49v1h-49zM509 443h2v4h-2zM520 443h50v1h-50zM519 444h44v1h-44zM568 444h2v10h-2zM518 445h45v1h-45zM517 446h46v1h-46zM509 447h54v1h-54zM509 448h2v28h-2zM517 448h46v6h-46zM517 454h53v1h-53zM517 455h46v10h-46zM568 455h2v10h-2zM517 465h53v1h-53zM517 466h46v8h-46zM568 466h2v8h-2zM517 474h53v1h-53zM517 475h46v1h-46zM568 475h2v8h-2zM509 476h54v1h-54zM509 477h2v11h-2zM517 477h46v6h-46zM517 483h53v1h-53zM517 484h46v4h-46zM568 484h2v4h-2zM509 488h61v1h-61zM509 489h8v5h-8zM519 489h1v5h-1zM539 489h1v5h-1zM563 489h7v5h-7zM552 491h2v3h-2zM556 491h1v3h-1zM509 494h61v2h-61z"/></g>
<g id="kbd"><path fill="#fff" d="M592 362h4v1h-4zM598 362h4v1h-4zM604 362h4v1h-4zM610 362h4v1h-4zM616 362h4v1h-4zM622 362h4v1h-4zM628 362h4v1h-4zM634 362h4v1h-4zM640 362h4v1h-4zM646 362h4v1h-4zM652 362h4v1h-4zM658 362h4v1h-4zM664 362h4v1h-4zM670 362h4v1h-4zM676 362h4v1h-4zM682 362h4v1h-4zM688 362h4v1h-4zM694 362h4v1h-4zM700 362h4v1h-4zM706 362h4v1h-4zM712 362h2v1h-2zM638 375h28v14h-28zM713 376h2v12h-2z"/><path d="M589 360h126v2h-126zM589 362h3v1h-3zM596 362h2v1h-2zM602 362h2v1h-2zM608 362h2v1h-2zM614 362h2v1h-2zM620 362h2v1h-2zM626 362h2v1h-2zM632 362h2v1h-2zM638 362h2v1h-2zM644 362h2v1h-2zM650 362h2v1h-2zM656 362h2v1h-2zM662 362h2v1h-2zM668 362h2v1h-2zM674 362h2v1h-2zM680 362h2v1h-2zM686 362h2v1h-2zM692 362h2v1h-2zM698 362h2v1h-2zM704 362h2v1h-2zM710 362h2v1h-2zM714 362h1v1h-1zM589 363h126v12h-126zM589 375h49v14h-49zM666 375h49v1h-49zM666 376h47v12h-47zM666 388h49v1h-49zM589 389h126v14h-126z"/></g>
<g id="crystal"><path d="M727 357h18v1h-18zM724 358h3v1h-3zM745 358h3v1h-3zM723 359h1v2h-1zM748 359h1v2h-1zM722 361h1v6h-1zM749 361h1v5h-1zM748 366h1v2h-1zM723 367h1v2h-1zM747 368h1v8h-1zM724 369h1v8h-1zM748 376h1v4h-1zM723 377h1v8h-1zM747 380h1v7h-1zM724 385h1v3h-1zM748 387h1v2h-1zM723 388h1v2h-1zM749 389h1v6h-1zM722 390h1v5h-1zM723 395h1v2h-1zM748 395h1v2h-1zM724 397h4v1h-4zM745 397h3v1h-3zM728 398h17v1h-17z"/></g>
<g id="bat"><path d="M754 404h26v1h-26zM754 405h1v5h-1zM779 405h1v1h-1zM757 406h5v4h-5zM763 406h5v4h-5zM769 406h5v4h-5zM775 406h5v1h-5zM775 407h1v2h-1zM778 407h2v2h-2zM775 409h5v1h-5zM754 410h26v1h-26z"/></g>
<g id="din"><path fill="#fff" d="M753 429h2v1h-2zM753 430h1v1h-1zM749 431h3v7h-3zM753 431h2v1h-2zM753 432h1v1h-1zM753 433h2v1h-2zM753 434h1v1h-1zM753 435h2v1h-2zM753 436h1v1h-1zM753 439h2v3h-2zM749 442h3v7h-3zM753 444h2v1h-2zM753 445h1v1h-1zM753 446h2v1h-2zM753 447h1v1h-1zM753 448h2v1h-2zM753 449h1v1h-1zM753 450h2v1h-2zM753 451h1v1h-1z"/><path d="M782 415h4v2h-4zM779 417h7v4h-7zM755 421h31v7h-31zM752 428h34v1h-34zM752 429h1v1h-1zM755 429h31v1h-31zM748 430h5v1h-5zM754 430h32v1h-32zM748 431h1v7h-1zM752 431h1v6h-1zM755 431h31v1h-31zM754 432h32v1h-32zM755 433h31v1h-31zM754 434h32v1h-32zM755 435h31v1h-31zM754 436h32v1h-32zM752 437h34v1h-34zM748 438h38v1h-38zM752 439h1v2h-1zM755 439h31v3h-31zM748 441h5v1h-5zM748 442h1v7h-1zM752 442h34v2h-34zM752 444h1v5h-1zM755 444h31v1h-31zM754 445h32v1h-32zM755 446h31v1h-31zM754 447h32v1h-32zM755 448h31v1h-31zM748 449h5v1h-5zM754 449h32v1h-32zM752 450h1v2h-1zM755 450h31v1h-31zM754 451h32v1h-32zM752 452h34v1h-34zM755 453h31v6h-31zM779 459h7v4h-7zM782 463h4v2h-4z"/></g>
<g id="power"><path fill="#fff" d="M623 509h1v2h-1zM734 510h1v2h-1zM623 512h1v2h-1z"/><path d="M623 493h112v1h-112zM623 494h1v7h-1zM734 494h1v7h-1zM625 497h7v1h-7zM634 497h7v1h-7zM643 497h7v1h-7zM652 497h7v1h-7zM661 497h7v1h-7zM670 497h7v1h-7zM679 497h7v1h-7zM689 497h7v1h-7zM698 497h7v1h-7zM708 497h7v1h-7zM717 497h7v1h-7zM726 497h7v1h-7zM625 498h1v1h-1zM631 498h1v1h-1zM634 498h1v1h-1zM640 498h1v1h-1zM643 498h1v1h-1zM649 498h1v1h-1zM652 498h1v1h-1zM658 498h1v1h-1zM661 498h1v1h-1zM667 498h1v1h-1zM670 498h1v1h-1zM676 498h1v1h-1zM679 498h1v1h-1zM685 498h1v1h-1zM689 498h1v1h-1zM695 498h1v1h-1zM698 498h1v1h-1zM704 498h1v1h-1zM708 498h1v1h-1zM714 498h1v1h-1zM717 498h1v1h-1zM723 498h1v1h-1zM726 498h1v1h-1zM732 498h1v1h-1zM625 499h7v1h-7zM634 499h7v1h-7zM643 499h7v1h-7zM652 499h7v1h-7zM661 499h7v1h-7zM670 499h7v1h-7zM679 499h7v1h-7zM689 499h7v1h-7zM698 499h7v1h-7zM708 499h7v1h-7zM717 499h7v1h-7zM726 499h7v1h-7zM627 500h3v1h-3zM636 500h3v1h-3zM645 500h3v1h-3zM654 500h3v1h-3zM663 500h3v1h-3zM672 500h3v1h-3zM681 500h3v1h-3zM691 500h3v1h-3zM700 500h3v1h-3zM710 500h3v1h-3zM719 500h3v1h-3zM728 500h3v1h-3zM623 501h112v1h-112zM623 502h1v6h-1zM734 502h1v5h-1zM625 504h7v2h-7zM634 504h7v2h-7zM643 504h7v2h-7zM652 504h7v2h-7zM661 504h7v2h-7zM670 504h7v2h-7zM679 504h7v2h-7zM689 504h7v2h-7zM698 504h7v2h-7zM708 504h7v2h-7zM717 504h7v2h-7zM726 504h7v2h-7zM629 507h7v1h-7zM639 507h7v1h-7zM648 507h7v1h-7zM657 507h8v1h-8zM666 507h8v1h-8zM676 507h7v1h-7zM685 507h7v1h-7zM694 507h7v1h-7zM703 507h8v1h-8zM712 507h8v1h-8zM722 507h8v1h-8zM732 507h3v1h-3zM623 508h3v1h-3zM629 508h1v6h-1zM635 508h1v6h-1zM639 508h1v6h-1zM645 508h1v6h-1zM648 508h1v6h-1zM654 508h1v6h-1zM657 508h1v6h-1zM664 508h1v6h-1zM666 508h1v6h-1zM673 508h1v6h-1zM676 508h1v6h-1zM682 508h1v6h-1zM685 508h1v6h-1zM691 508h1v6h-1zM694 508h1v6h-1zM700 508h1v6h-1zM703 508h1v6h-1zM710 508h1v6h-1zM712 508h1v6h-1zM719 508h1v6h-1zM722 508h1v6h-1zM729 508h1v6h-1zM732 508h1v6h-1zM734 508h1v2h-1zM625 509h1v2h-1zM623 511h3v1h-3zM625 512h1v2h-1zM734 512h1v2h-1zM623 514h3v1h-3zM629 514h7v1h-7zM639 514h7v1h-7zM648 514h7v1h-7zM657 514h8v1h-8zM666 514h8v1h-8zM676 514h7v1h-7zM685 514h7v1h-7zM694 514h7v1h-7zM703 514h8v1h-8zM712 514h8v1h-8zM722 514h8v1h-8zM732 514h3v1h-3zM623 515h1v2h-1zM734 515h1v2h-1zM623 517h112v1h-112z"/></g>
<g id="callouts"><path fill="#fff" d="M270 40h1v1h-1zM273 44h28v1h-28zM272 45h30v12h-30zM273 57h28v1h-28zM224 232h27v1h-27zM223 233h29v12h-29zM262 242h28v1h-28zM261 243h30v12h-30zM224 245h27v1h-27zM237 249h1v6h-1zM262 255h28v1h-28zM259 257h1v1h-1zM258 258h1v1h-1zM257 259h1v1h-1zM263 307h1v9h-1zM29 314h29v1h-29zM28 315h31v12h-31zM249 318h27v1h-27zM248 319h29v12h-29zM29 327h29v1h-29zM26 330h1v1h-1zM249 331h27v1h-27zM76 343h27v1h-27zM75 344h29v1h-29zM74 345h31v10h-31zM70 348h2v1h-2zM65 349h7v1h-7zM70 350h2v1h-2zM75 355h29v1h-29zM76 356h27v1h-27zM755 372h27v1h-27zM754 373h29v12h-29zM43 376h1v1h-1zM46 378h28v1h-28zM45 379h30v12h-30zM755 385h27v1h-27zM767 388h1v8h-1zM46 391h28v1h-28zM700 423h1v1h-1zM699 424h1v1h-1zM669 426h28v1h-28zM668 427h30v12h-30zM68 438h24v1h-24zM67 439h26v1h-26zM669 439h28v1h-28zM66 440h28v11h-28zM67 451h26v1h-26zM68 452h24v1h-24z"/><path d="M263 34h2v1h-2zM263 35h3v1h-3zM264 36h4v1h-4zM265 37h5v1h-5zM265 38h7v1h-7zM266 39h8v1h-8zM266 40h4v1h-4zM271 40h5v1h-5zM267 41h36v1h-36zM267 42h37v1h-37zM268 43h36v1h-36zM268 44h5v1h-5zM301 44h3v1h-3zM269 45h3v1h-3zM302 45h2v12h-2zM270 46h2v11h-2zM270 57h3v1h-3zM301 57h3v1h-3zM270 58h34v1h-34zM271 59h32v1h-32zM222 230h32v1h-32zM221 231h34v1h-34zM221 232h3v1h-3zM251 232h4v1h-4zM221 233h2v12h-2zM252 233h3v12h-3zM260 240h33v1h-33zM259 241h35v1h-35zM259 242h3v1h-3zM290 242h4v1h-4zM259 243h2v11h-2zM291 243h3v12h-3zM221 245h3v1h-3zM251 245h4v1h-4zM221 246h34v2h-34zM222 248h32v1h-32zM234 249h3v2h-3zM238 249h3v2h-3zM235 251h2v4h-2zM238 251h2v4h-2zM258 254h3v1h-3zM235 255h5v1h-5zM257 255h5v1h-5zM290 255h4v1h-4zM236 256h3v6h-3zM257 256h37v1h-37zM256 257h3v1h-3zM260 257h33v1h-33zM256 258h2v1h-2zM259 258h6v1h-6zM255 259h2v1h-2zM258 259h5v1h-5zM255 260h6v1h-6zM254 261h4v1h-4zM236 262h2v3h-2zM253 262h3v1h-3zM252 263h3v1h-3zM253 264h1v1h-1zM264 300h2v3h-2zM263 303h3v4h-3zM262 307h1v4h-1zM264 307h2v2h-2zM264 309h3v6h-3zM261 311h2v4h-2zM27 312h33v1h-33zM26 313h35v1h-35zM26 314h3v1h-3zM58 314h3v1h-3zM26 315h2v11h-2zM59 315h2v12h-2zM260 315h3v1h-3zM264 315h4v1h-4zM247 316h32v1h-32zM246 317h34v1h-34zM246 318h3v1h-3zM276 318h4v1h-4zM246 319h2v12h-2zM277 319h3v12h-3zM25 326h3v1h-3zM24 327h5v1h-5zM58 327h3v1h-3zM24 328h37v1h-37zM23 329h38v1h-38zM23 330h3v1h-3zM27 330h33v1h-33zM22 331h10v1h-10zM246 331h3v1h-3zM276 331h4v1h-4zM22 332h8v1h-8zM246 332h34v2h-34zM21 333h7v1h-7zM21 334h5v1h-5zM247 334h32v1h-32zM20 335h4v1h-4zM19 336h3v1h-3zM18 337h3v1h-3zM19 338h1v1h-1zM75 340h30v1h-30zM73 341h34v2h-34zM72 343h4v1h-4zM103 343h5v1h-5zM72 344h3v1h-3zM104 344h4v1h-4zM72 345h2v2h-2zM105 345h3v10h-3zM65 347h9v1h-9zM57 348h13v1h-13zM72 348h2v3h-2zM57 349h8v1h-8zM57 350h13v1h-13zM57 351h17v1h-17zM65 352h9v1h-9zM72 353h2v2h-2zM72 355h3v1h-3zM104 355h4v1h-4zM73 356h3v1h-3zM103 356h4v1h-4zM73 357h34v1h-34zM75 358h30v1h-30zM752 369h32v1h-32zM36 370h2v1h-2zM751 370h34v2h-34zM36 371h3v1h-3zM37 372h4v1h-4zM751 372h4v1h-4zM782 372h3v1h-3zM38 373h4v1h-4zM751 373h3v12h-3zM783 373h2v12h-2zM39 374h5v1h-5zM40 375h6v1h-6zM40 376h3v1h-3zM44 376h33v1h-33zM41 377h37v1h-37zM42 378h4v1h-4zM74 378h4v1h-4zM42 379h3v1h-3zM75 379h3v12h-3zM43 380h2v11h-2zM751 385h4v1h-4zM782 385h3v1h-3zM751 386h34v1h-34zM752 387h32v1h-32zM764 388h3v2h-3zM768 388h4v2h-4zM765 390h2v6h-2zM768 390h3v4h-3zM43 391h3v1h-3zM74 391h4v1h-4zM43 392h35v1h-35zM44 393h33v1h-33zM768 394h2v2h-2zM766 396h4v2h-4zM766 398h3v4h-3zM766 402h2v3h-2zM706 416h1v1h-1zM705 417h3v1h-3zM704 418h3v1h-3zM703 419h3v1h-3zM702 420h3v1h-3zM700 421h5v1h-5zM699 422h5v1h-5zM697 423h3v1h-3zM701 423h3v1h-3zM666 424h33v1h-33zM700 424h3v1h-3zM665 425h38v1h-38zM665 426h4v1h-4zM697 426h5v1h-5zM665 427h3v12h-3zM698 427h4v1h-4zM698 428h3v1h-3zM698 429h2v10h-2zM66 436h27v1h-27zM64 437h31v1h-31zM64 438h4v1h-4zM92 438h3v1h-3zM63 439h4v1h-4zM93 439h3v1h-3zM665 439h4v1h-4zM697 439h3v1h-3zM63 440h3v11h-3zM94 440h2v11h-2zM665 440h35v2h-35zM666 442h33v1h-33zM63 451h4v1h-4zM93 451h3v1h-3zM64 452h4v1h-4zM92 452h3v1h-3zM64 453h31v1h-31zM66 454h27v1h-27z"/></g>
<g id="labels" filter="url(#bw)">
<text transform="translate(106.77 80.70) scale(0.75 1)" font-size="14" textLength="63.74" lengthAdjust="spacing" fill="#000">BANK 0</text>
<text transform="translate(106.77 164.80) scale(0.75 1)" font-size="14" textLength="63.05" lengthAdjust="spacing" fill="#000">BANK 1</text>
<text transform="translate(291.05 439.00) scale(0.75 1)" font-size="14" textLength="35.87" lengthAdjust="spacing" fill="#000">CPU</text>
<text transform="translate(393.97 430.20) scale(0.75 1)" font-size="14" textLength="95.05" lengthAdjust="spacing" fill="#000">BIOS/EVEN</text>
<text transform="translate(397.78 476.00) scale(0.75 1)" font-size="14" textLength="85.32" lengthAdjust="spacing" fill="#000">BIOS/ODD</text>
<text transform="translate(639.10 386.20) scale(0.75 1)" font-size="14" textLength="33.01" lengthAdjust="spacing" fill="#000">KBD</text>
<text transform="translate(272.92 55.00) scale(0.75 1)" font-size="14" textLength="33.56" lengthAdjust="spacing" fill="#000">CN1</text>
<text transform="translate(248.92 328.90) scale(0.75 1)" font-size="14" textLength="34.84" lengthAdjust="spacing" fill="#000">CN2</text>
<text transform="translate(225.36 243.00) scale(0.75 1)" font-size="14" textLength="29.54" lengthAdjust="spacing" fill="#000">JP4</text>
<text transform="translate(264.05 252.70) scale(0.75 1)" font-size="14" textLength="29.21" lengthAdjust="spacing" fill="#000">JP3</text>
<text transform="translate(32.36 324.50) scale(0.75 1)" font-size="14" textLength="27.44" lengthAdjust="spacing" fill="#000">J26</text>
<text transform="translate(75.12 353.00) scale(0.75 1)" font-size="14" textLength="35.89" lengthAdjust="spacing" fill="#000">SW1</text>
<text transform="translate(48.36 388.50) scale(0.75 1)" font-size="14" textLength="27.35" lengthAdjust="spacing" fill="#000">J25</text>
<text transform="translate(66.09 450.00) scale(0.75 1)" font-size="14" textLength="34.73" lengthAdjust="spacing" fill="#000">NPU</text>
<text transform="translate(756.07 383.00) scale(0.75 1)" font-size="14" textLength="31.38" lengthAdjust="spacing" fill="#000">BAT</text>
<text transform="translate(670.65 437.00) scale(0.75 1)" font-size="14" textLength="28.27" lengthAdjust="spacing" fill="#000">JP1</text>
<text transform="translate(626.05 50.00) scale(0.72 1)" font-size="12.5" textLength="60.97" lengthAdjust="spacing" fill="#000">MH1058</text>
</g>
</svg>
</body>
</html>
